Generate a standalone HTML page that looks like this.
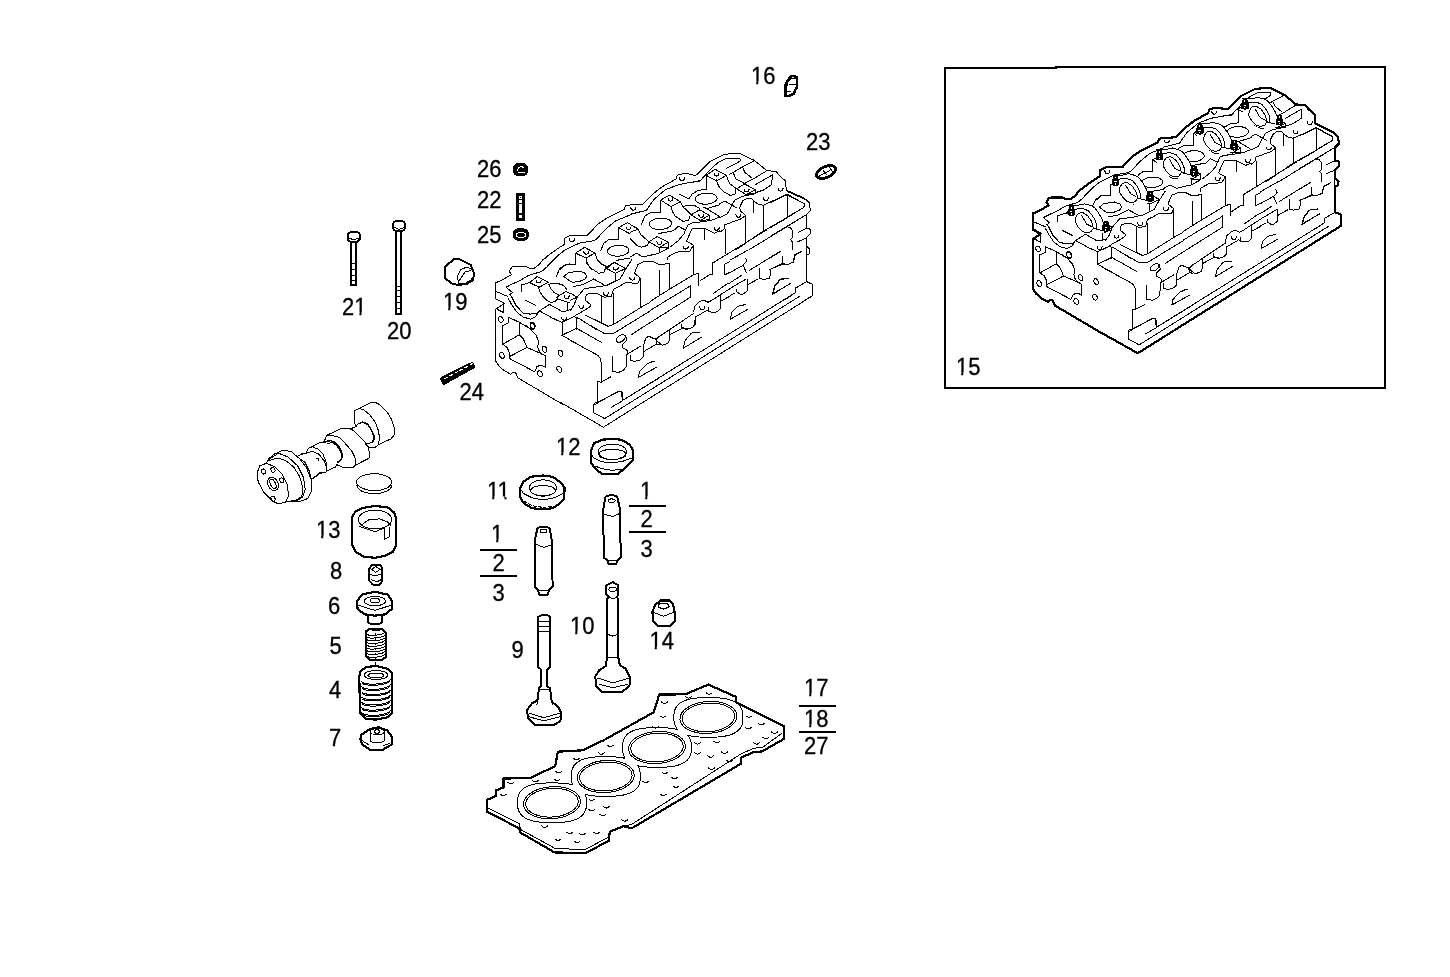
<!DOCTYPE html>
<html><head><meta charset="utf-8"><style>
html,body{margin:0;padding:0;background:#fff;width:1450px;height:977px;overflow:hidden}
svg{position:absolute;left:0;top:0;will-change:transform}
text{font-family:"Liberation Sans",sans-serif;font-size:22px;fill:#000;stroke:#000;stroke-width:0.3px}
</style></head><body>
<svg width="1450" height="977" viewBox="0 0 1450 977">
<g fill="none" stroke="#000" stroke-width="1" stroke-linejoin="round" stroke-linecap="round" shape-rendering="crispEdges">
<path d="M945,388 V68 H1056 V67 H1385 V388 Z" stroke-width="2" stroke-linejoin="miter" stroke-linecap="butt" shape-rendering="crispEdges"/>
<g stroke-width="2" shape-rendering="crispEdges" stroke-linecap="butt">
<path d="M629,506 H666 M629,532 H666"/>
<path d="M480,550 H517 M480,576 H517"/>
<path d="M799,706 H836 M799,732 H836"/>
</g>

<defs><mask id="gm0" maskUnits="userSpaceOnUse" x="0" y="0" width="1450" height="977"><rect width="1450" height="977" fill="#fff"/><path d="M640.3,776.5 L640.2,779.7 L639.9,781.9 L639.4,783.8 L638.7,785.4 L637.9,787.0 L636.8,788.3 L635.6,789.6 L634.1,790.8 L632.5,791.8 L630.7,792.8 L628.7,793.6 L626.4,794.3 L624.0,794.9 L621.4,795.4 L618.5,795.8 L615.2,796.1 L611.5,796.2 L605.8,796.3 L600.1,796.2 L596.4,796.1 L593.1,795.8 L590.2,795.4 L587.6,794.9 L585.2,794.3 L582.9,793.6 L580.9,792.8 L579.1,791.8 L577.5,790.8 L576.0,789.6 L574.8,788.3 L573.7,787.0 L572.9,785.4 L572.2,783.8 L571.7,781.9 L571.4,779.7 L571.3,776.5 L571.4,773.3 L571.7,771.1 L572.2,769.2 L572.9,767.6 L573.7,766.0 L574.8,764.7 L576.0,763.4 L577.5,762.2 L579.1,761.2 L580.9,760.2 L582.9,759.4 L585.2,758.7 L587.6,758.1 L590.2,757.6 L593.1,757.2 L596.4,756.9 L600.1,756.8 L605.8,756.7 L611.5,756.8 L615.2,756.9 L618.5,757.2 L621.4,757.6 L624.0,758.1 L626.4,758.7 L628.7,759.4 L630.7,760.2 L632.5,761.2 L634.1,762.2 L635.6,763.4 L636.8,764.7 L637.9,766.0 L638.7,767.6 L639.4,769.2 L639.9,771.1 L640.2,773.3 Z" fill="#000" stroke="none"/><path d="M691.5,747.5 L691.4,750.7 L691.1,752.9 L690.6,754.8 L689.9,756.4 L689.1,758.0 L688.0,759.3 L686.8,760.6 L685.3,761.8 L683.7,762.8 L681.9,763.8 L679.9,764.6 L677.6,765.3 L675.2,765.9 L672.6,766.4 L669.7,766.8 L666.4,767.1 L662.7,767.2 L657.0,767.3 L651.3,767.2 L647.6,767.1 L644.3,766.8 L641.4,766.4 L638.8,765.9 L636.4,765.3 L634.1,764.6 L632.1,763.8 L630.3,762.8 L628.7,761.8 L627.2,760.6 L626.0,759.3 L624.9,758.0 L624.1,756.4 L623.4,754.8 L622.9,752.9 L622.6,750.7 L622.5,747.5 L622.6,744.3 L622.9,742.1 L623.4,740.2 L624.1,738.6 L624.9,737.0 L626.0,735.7 L627.2,734.4 L628.7,733.2 L630.3,732.2 L632.1,731.2 L634.1,730.4 L636.4,729.7 L638.8,729.1 L641.4,728.6 L644.3,728.2 L647.6,727.9 L651.3,727.8 L657.0,727.7 L662.7,727.8 L666.4,727.9 L669.7,728.2 L672.6,728.6 L675.2,729.1 L677.6,729.7 L679.9,730.4 L681.9,731.2 L683.7,732.2 L685.3,733.2 L686.8,734.4 L688.0,735.7 L689.1,737.0 L689.9,738.6 L690.6,740.2 L691.1,742.1 L691.4,744.3 Z" fill="#000" stroke="none"/><path d="M742.9,717.4 L742.8,720.6 L742.5,722.8 L742.0,724.7 L741.3,726.3 L740.5,727.9 L739.4,729.2 L738.2,730.5 L736.7,731.7 L735.1,732.7 L733.3,733.7 L731.3,734.5 L729.0,735.2 L726.6,735.8 L724.0,736.3 L721.1,736.7 L717.8,737.0 L714.1,737.1 L708.4,737.2 L702.7,737.1 L699.0,737.0 L695.7,736.7 L692.8,736.3 L690.2,735.8 L687.8,735.2 L685.5,734.5 L683.5,733.7 L681.7,732.7 L680.1,731.7 L678.6,730.5 L677.4,729.2 L676.3,727.9 L675.5,726.3 L674.8,724.7 L674.3,722.8 L674.0,720.6 L673.9,717.4 L674.0,714.2 L674.3,712.0 L674.8,710.1 L675.5,708.5 L676.3,706.9 L677.4,705.6 L678.6,704.3 L680.1,703.1 L681.7,702.1 L683.5,701.1 L685.5,700.3 L687.8,699.6 L690.2,699.0 L692.8,698.5 L695.7,698.1 L699.0,697.8 L702.7,697.7 L708.4,697.6 L714.1,697.7 L717.8,697.8 L721.1,698.1 L724.0,698.5 L726.6,699.0 L729.0,699.6 L731.3,700.3 L733.3,701.1 L735.1,702.1 L736.7,703.1 L738.2,704.3 L739.4,705.6 L740.5,706.9 L741.3,708.5 L742.0,710.1 L742.5,712.0 L742.8,714.2 Z" fill="#000" stroke="none"/></mask><mask id="gm1" maskUnits="userSpaceOnUse" x="0" y="0" width="1450" height="977"><rect width="1450" height="977" fill="#fff"/><path d="M586.5,802.7 L586.4,805.9 L586.1,808.1 L585.6,810.0 L584.9,811.6 L584.1,813.2 L583.0,814.5 L581.8,815.8 L580.3,817.0 L578.7,818.0 L576.9,819.0 L574.9,819.8 L572.6,820.5 L570.2,821.1 L567.6,821.6 L564.7,822.0 L561.4,822.3 L557.7,822.4 L552.0,822.5 L546.3,822.4 L542.6,822.3 L539.3,822.0 L536.4,821.6 L533.8,821.1 L531.4,820.5 L529.1,819.8 L527.1,819.0 L525.3,818.0 L523.7,817.0 L522.2,815.8 L521.0,814.5 L519.9,813.2 L519.1,811.6 L518.4,810.0 L517.9,808.1 L517.6,805.9 L517.5,802.7 L517.6,799.5 L517.9,797.3 L518.4,795.4 L519.1,793.8 L519.9,792.2 L521.0,790.9 L522.2,789.6 L523.7,788.4 L525.3,787.4 L527.1,786.4 L529.1,785.6 L531.4,784.9 L533.8,784.3 L536.4,783.8 L539.3,783.4 L542.6,783.1 L546.3,783.0 L552.0,782.9 L557.7,783.0 L561.4,783.1 L564.7,783.4 L567.6,783.8 L570.2,784.3 L572.6,784.9 L574.9,785.6 L576.9,786.4 L578.7,787.4 L580.3,788.4 L581.8,789.6 L583.0,790.9 L584.1,792.2 L584.9,793.8 L585.6,795.4 L586.1,797.3 L586.4,799.5 Z" fill="#000" stroke="none"/><path d="M691.5,747.5 L691.4,750.7 L691.1,752.9 L690.6,754.8 L689.9,756.4 L689.1,758.0 L688.0,759.3 L686.8,760.6 L685.3,761.8 L683.7,762.8 L681.9,763.8 L679.9,764.6 L677.6,765.3 L675.2,765.9 L672.6,766.4 L669.7,766.8 L666.4,767.1 L662.7,767.2 L657.0,767.3 L651.3,767.2 L647.6,767.1 L644.3,766.8 L641.4,766.4 L638.8,765.9 L636.4,765.3 L634.1,764.6 L632.1,763.8 L630.3,762.8 L628.7,761.8 L627.2,760.6 L626.0,759.3 L624.9,758.0 L624.1,756.4 L623.4,754.8 L622.9,752.9 L622.6,750.7 L622.5,747.5 L622.6,744.3 L622.9,742.1 L623.4,740.2 L624.1,738.6 L624.9,737.0 L626.0,735.7 L627.2,734.4 L628.7,733.2 L630.3,732.2 L632.1,731.2 L634.1,730.4 L636.4,729.7 L638.8,729.1 L641.4,728.6 L644.3,728.2 L647.6,727.9 L651.3,727.8 L657.0,727.7 L662.7,727.8 L666.4,727.9 L669.7,728.2 L672.6,728.6 L675.2,729.1 L677.6,729.7 L679.9,730.4 L681.9,731.2 L683.7,732.2 L685.3,733.2 L686.8,734.4 L688.0,735.7 L689.1,737.0 L689.9,738.6 L690.6,740.2 L691.1,742.1 L691.4,744.3 Z" fill="#000" stroke="none"/><path d="M742.9,717.4 L742.8,720.6 L742.5,722.8 L742.0,724.7 L741.3,726.3 L740.5,727.9 L739.4,729.2 L738.2,730.5 L736.7,731.7 L735.1,732.7 L733.3,733.7 L731.3,734.5 L729.0,735.2 L726.6,735.8 L724.0,736.3 L721.1,736.7 L717.8,737.0 L714.1,737.1 L708.4,737.2 L702.7,737.1 L699.0,737.0 L695.7,736.7 L692.8,736.3 L690.2,735.8 L687.8,735.2 L685.5,734.5 L683.5,733.7 L681.7,732.7 L680.1,731.7 L678.6,730.5 L677.4,729.2 L676.3,727.9 L675.5,726.3 L674.8,724.7 L674.3,722.8 L674.0,720.6 L673.9,717.4 L674.0,714.2 L674.3,712.0 L674.8,710.1 L675.5,708.5 L676.3,706.9 L677.4,705.6 L678.6,704.3 L680.1,703.1 L681.7,702.1 L683.5,701.1 L685.5,700.3 L687.8,699.6 L690.2,699.0 L692.8,698.5 L695.7,698.1 L699.0,697.8 L702.7,697.7 L708.4,697.6 L714.1,697.7 L717.8,697.8 L721.1,698.1 L724.0,698.5 L726.6,699.0 L729.0,699.6 L731.3,700.3 L733.3,701.1 L735.1,702.1 L736.7,703.1 L738.2,704.3 L739.4,705.6 L740.5,706.9 L741.3,708.5 L742.0,710.1 L742.5,712.0 L742.8,714.2 Z" fill="#000" stroke="none"/></mask><mask id="gm2" maskUnits="userSpaceOnUse" x="0" y="0" width="1450" height="977"><rect width="1450" height="977" fill="#fff"/><path d="M586.5,802.7 L586.4,805.9 L586.1,808.1 L585.6,810.0 L584.9,811.6 L584.1,813.2 L583.0,814.5 L581.8,815.8 L580.3,817.0 L578.7,818.0 L576.9,819.0 L574.9,819.8 L572.6,820.5 L570.2,821.1 L567.6,821.6 L564.7,822.0 L561.4,822.3 L557.7,822.4 L552.0,822.5 L546.3,822.4 L542.6,822.3 L539.3,822.0 L536.4,821.6 L533.8,821.1 L531.4,820.5 L529.1,819.8 L527.1,819.0 L525.3,818.0 L523.7,817.0 L522.2,815.8 L521.0,814.5 L519.9,813.2 L519.1,811.6 L518.4,810.0 L517.9,808.1 L517.6,805.9 L517.5,802.7 L517.6,799.5 L517.9,797.3 L518.4,795.4 L519.1,793.8 L519.9,792.2 L521.0,790.9 L522.2,789.6 L523.7,788.4 L525.3,787.4 L527.1,786.4 L529.1,785.6 L531.4,784.9 L533.8,784.3 L536.4,783.8 L539.3,783.4 L542.6,783.1 L546.3,783.0 L552.0,782.9 L557.7,783.0 L561.4,783.1 L564.7,783.4 L567.6,783.8 L570.2,784.3 L572.6,784.9 L574.9,785.6 L576.9,786.4 L578.7,787.4 L580.3,788.4 L581.8,789.6 L583.0,790.9 L584.1,792.2 L584.9,793.8 L585.6,795.4 L586.1,797.3 L586.4,799.5 Z" fill="#000" stroke="none"/><path d="M640.3,776.5 L640.2,779.7 L639.9,781.9 L639.4,783.8 L638.7,785.4 L637.9,787.0 L636.8,788.3 L635.6,789.6 L634.1,790.8 L632.5,791.8 L630.7,792.8 L628.7,793.6 L626.4,794.3 L624.0,794.9 L621.4,795.4 L618.5,795.8 L615.2,796.1 L611.5,796.2 L605.8,796.3 L600.1,796.2 L596.4,796.1 L593.1,795.8 L590.2,795.4 L587.6,794.9 L585.2,794.3 L582.9,793.6 L580.9,792.8 L579.1,791.8 L577.5,790.8 L576.0,789.6 L574.8,788.3 L573.7,787.0 L572.9,785.4 L572.2,783.8 L571.7,781.9 L571.4,779.7 L571.3,776.5 L571.4,773.3 L571.7,771.1 L572.2,769.2 L572.9,767.6 L573.7,766.0 L574.8,764.7 L576.0,763.4 L577.5,762.2 L579.1,761.2 L580.9,760.2 L582.9,759.4 L585.2,758.7 L587.6,758.1 L590.2,757.6 L593.1,757.2 L596.4,756.9 L600.1,756.8 L605.8,756.7 L611.5,756.8 L615.2,756.9 L618.5,757.2 L621.4,757.6 L624.0,758.1 L626.4,758.7 L628.7,759.4 L630.7,760.2 L632.5,761.2 L634.1,762.2 L635.6,763.4 L636.8,764.7 L637.9,766.0 L638.7,767.6 L639.4,769.2 L639.9,771.1 L640.2,773.3 Z" fill="#000" stroke="none"/><path d="M742.9,717.4 L742.8,720.6 L742.5,722.8 L742.0,724.7 L741.3,726.3 L740.5,727.9 L739.4,729.2 L738.2,730.5 L736.7,731.7 L735.1,732.7 L733.3,733.7 L731.3,734.5 L729.0,735.2 L726.6,735.8 L724.0,736.3 L721.1,736.7 L717.8,737.0 L714.1,737.1 L708.4,737.2 L702.7,737.1 L699.0,737.0 L695.7,736.7 L692.8,736.3 L690.2,735.8 L687.8,735.2 L685.5,734.5 L683.5,733.7 L681.7,732.7 L680.1,731.7 L678.6,730.5 L677.4,729.2 L676.3,727.9 L675.5,726.3 L674.8,724.7 L674.3,722.8 L674.0,720.6 L673.9,717.4 L674.0,714.2 L674.3,712.0 L674.8,710.1 L675.5,708.5 L676.3,706.9 L677.4,705.6 L678.6,704.3 L680.1,703.1 L681.7,702.1 L683.5,701.1 L685.5,700.3 L687.8,699.6 L690.2,699.0 L692.8,698.5 L695.7,698.1 L699.0,697.8 L702.7,697.7 L708.4,697.6 L714.1,697.7 L717.8,697.8 L721.1,698.1 L724.0,698.5 L726.6,699.0 L729.0,699.6 L731.3,700.3 L733.3,701.1 L735.1,702.1 L736.7,703.1 L738.2,704.3 L739.4,705.6 L740.5,706.9 L741.3,708.5 L742.0,710.1 L742.5,712.0 L742.8,714.2 Z" fill="#000" stroke="none"/></mask><mask id="gm3" maskUnits="userSpaceOnUse" x="0" y="0" width="1450" height="977"><rect width="1450" height="977" fill="#fff"/><path d="M586.5,802.7 L586.4,805.9 L586.1,808.1 L585.6,810.0 L584.9,811.6 L584.1,813.2 L583.0,814.5 L581.8,815.8 L580.3,817.0 L578.7,818.0 L576.9,819.0 L574.9,819.8 L572.6,820.5 L570.2,821.1 L567.6,821.6 L564.7,822.0 L561.4,822.3 L557.7,822.4 L552.0,822.5 L546.3,822.4 L542.6,822.3 L539.3,822.0 L536.4,821.6 L533.8,821.1 L531.4,820.5 L529.1,819.8 L527.1,819.0 L525.3,818.0 L523.7,817.0 L522.2,815.8 L521.0,814.5 L519.9,813.2 L519.1,811.6 L518.4,810.0 L517.9,808.1 L517.6,805.9 L517.5,802.7 L517.6,799.5 L517.9,797.3 L518.4,795.4 L519.1,793.8 L519.9,792.2 L521.0,790.9 L522.2,789.6 L523.7,788.4 L525.3,787.4 L527.1,786.4 L529.1,785.6 L531.4,784.9 L533.8,784.3 L536.4,783.8 L539.3,783.4 L542.6,783.1 L546.3,783.0 L552.0,782.9 L557.7,783.0 L561.4,783.1 L564.7,783.4 L567.6,783.8 L570.2,784.3 L572.6,784.9 L574.9,785.6 L576.9,786.4 L578.7,787.4 L580.3,788.4 L581.8,789.6 L583.0,790.9 L584.1,792.2 L584.9,793.8 L585.6,795.4 L586.1,797.3 L586.4,799.5 Z" fill="#000" stroke="none"/><path d="M640.3,776.5 L640.2,779.7 L639.9,781.9 L639.4,783.8 L638.7,785.4 L637.9,787.0 L636.8,788.3 L635.6,789.6 L634.1,790.8 L632.5,791.8 L630.7,792.8 L628.7,793.6 L626.4,794.3 L624.0,794.9 L621.4,795.4 L618.5,795.8 L615.2,796.1 L611.5,796.2 L605.8,796.3 L600.1,796.2 L596.4,796.1 L593.1,795.8 L590.2,795.4 L587.6,794.9 L585.2,794.3 L582.9,793.6 L580.9,792.8 L579.1,791.8 L577.5,790.8 L576.0,789.6 L574.8,788.3 L573.7,787.0 L572.9,785.4 L572.2,783.8 L571.7,781.9 L571.4,779.7 L571.3,776.5 L571.4,773.3 L571.7,771.1 L572.2,769.2 L572.9,767.6 L573.7,766.0 L574.8,764.7 L576.0,763.4 L577.5,762.2 L579.1,761.2 L580.9,760.2 L582.9,759.4 L585.2,758.7 L587.6,758.1 L590.2,757.6 L593.1,757.2 L596.4,756.9 L600.1,756.8 L605.8,756.7 L611.5,756.8 L615.2,756.9 L618.5,757.2 L621.4,757.6 L624.0,758.1 L626.4,758.7 L628.7,759.4 L630.7,760.2 L632.5,761.2 L634.1,762.2 L635.6,763.4 L636.8,764.7 L637.9,766.0 L638.7,767.6 L639.4,769.2 L639.9,771.1 L640.2,773.3 Z" fill="#000" stroke="none"/><path d="M691.5,747.5 L691.4,750.7 L691.1,752.9 L690.6,754.8 L689.9,756.4 L689.1,758.0 L688.0,759.3 L686.8,760.6 L685.3,761.8 L683.7,762.8 L681.9,763.8 L679.9,764.6 L677.6,765.3 L675.2,765.9 L672.6,766.4 L669.7,766.8 L666.4,767.1 L662.7,767.2 L657.0,767.3 L651.3,767.2 L647.6,767.1 L644.3,766.8 L641.4,766.4 L638.8,765.9 L636.4,765.3 L634.1,764.6 L632.1,763.8 L630.3,762.8 L628.7,761.8 L627.2,760.6 L626.0,759.3 L624.9,758.0 L624.1,756.4 L623.4,754.8 L622.9,752.9 L622.6,750.7 L622.5,747.5 L622.6,744.3 L622.9,742.1 L623.4,740.2 L624.1,738.6 L624.9,737.0 L626.0,735.7 L627.2,734.4 L628.7,733.2 L630.3,732.2 L632.1,731.2 L634.1,730.4 L636.4,729.7 L638.8,729.1 L641.4,728.6 L644.3,728.2 L647.6,727.9 L651.3,727.8 L657.0,727.7 L662.7,727.8 L666.4,727.9 L669.7,728.2 L672.6,728.6 L675.2,729.1 L677.6,729.7 L679.9,730.4 L681.9,731.2 L683.7,732.2 L685.3,733.2 L686.8,734.4 L688.0,735.7 L689.1,737.0 L689.9,738.6 L690.6,740.2 L691.1,742.1 L691.4,744.3 Z" fill="#000" stroke="none"/></mask></defs>
<path d="M486.9,811.7 L486.9,800.0 L495.9,795.9 L495.9,790.3 L503.4,787.6 L503.4,778.6 L530.3,777.9 L555.2,766.2 L557.9,751.7 L582.8,750.3 L604.1,740.0 L653.8,712.2 L659.2,694.6 L685.3,694.3 L708.3,684.6 L736.0,696.9 L736.4,702.6 L783.6,726.0 L783.6,739.1 L762.1,751.4 L753.6,752.1 L741.3,757.5 L741.0,763.7 L631.7,828.3 L623.4,826.2 L609.7,831.7 L609.0,840.7 L585.5,853.1 L554.5,852.4 L520.0,832.4 L519.3,828.3 Z" stroke-width="2.2"/>
<path d="M487.6,807.9 L519.6,823.7 L520.4,829.4 L555.6,848.7 L585.5,849.4 L609.1,836.8 L609.9,831.3 L623.4,825.8 L631.0,824.8 L741.3,753.7 L753.6,748.3 L762.8,747.2 L781.3,733.7" stroke-width="1"/>
<ellipse cx="552" cy="802.7" rx="28.5" ry="16" transform="rotate(-4 552 802.7)"/>
<ellipse cx="552" cy="802.7" rx="26.3" ry="14.3" transform="rotate(-4 552 802.7)"/>
<ellipse cx="605.8" cy="776.5" rx="28.5" ry="16" transform="rotate(-4 605.8 776.5)"/>
<ellipse cx="605.8" cy="776.5" rx="26.3" ry="14.3" transform="rotate(-4 605.8 776.5)"/>
<ellipse cx="657" cy="747.5" rx="28.5" ry="16" transform="rotate(-4 657 747.5)"/>
<ellipse cx="657" cy="747.5" rx="26.3" ry="14.3" transform="rotate(-4 657 747.5)"/>
<ellipse cx="708.4" cy="717.4" rx="28.5" ry="16" transform="rotate(-4 708.4 717.4)"/>
<ellipse cx="708.4" cy="717.4" rx="26.3" ry="14.3" transform="rotate(-4 708.4 717.4)"/>
<path d="M586.5,802.7 L586.4,805.9 L586.1,808.1 L585.6,810.0 L584.9,811.6 L584.1,813.2 L583.0,814.5 L581.8,815.8 L580.3,817.0 L578.7,818.0 L576.9,819.0 L574.9,819.8 L572.6,820.5 L570.2,821.1 L567.6,821.6 L564.7,822.0 L561.4,822.3 L557.7,822.4 L552.0,822.5 L546.3,822.4 L542.6,822.3 L539.3,822.0 L536.4,821.6 L533.8,821.1 L531.4,820.5 L529.1,819.8 L527.1,819.0 L525.3,818.0 L523.7,817.0 L522.2,815.8 L521.0,814.5 L519.9,813.2 L519.1,811.6 L518.4,810.0 L517.9,808.1 L517.6,805.9 L517.5,802.7 L517.6,799.5 L517.9,797.3 L518.4,795.4 L519.1,793.8 L519.9,792.2 L521.0,790.9 L522.2,789.6 L523.7,788.4 L525.3,787.4 L527.1,786.4 L529.1,785.6 L531.4,784.9 L533.8,784.3 L536.4,783.8 L539.3,783.4 L542.6,783.1 L546.3,783.0 L552.0,782.9 L557.7,783.0 L561.4,783.1 L564.7,783.4 L567.6,783.8 L570.2,784.3 L572.6,784.9 L574.9,785.6 L576.9,786.4 L578.7,787.4 L580.3,788.4 L581.8,789.6 L583.0,790.9 L584.1,792.2 L584.9,793.8 L585.6,795.4 L586.1,797.3 L586.4,799.5 Z" mask="url(#gm0)"/>
<path d="M640.3,776.5 L640.2,779.7 L639.9,781.9 L639.4,783.8 L638.7,785.4 L637.9,787.0 L636.8,788.3 L635.6,789.6 L634.1,790.8 L632.5,791.8 L630.7,792.8 L628.7,793.6 L626.4,794.3 L624.0,794.9 L621.4,795.4 L618.5,795.8 L615.2,796.1 L611.5,796.2 L605.8,796.3 L600.1,796.2 L596.4,796.1 L593.1,795.8 L590.2,795.4 L587.6,794.9 L585.2,794.3 L582.9,793.6 L580.9,792.8 L579.1,791.8 L577.5,790.8 L576.0,789.6 L574.8,788.3 L573.7,787.0 L572.9,785.4 L572.2,783.8 L571.7,781.9 L571.4,779.7 L571.3,776.5 L571.4,773.3 L571.7,771.1 L572.2,769.2 L572.9,767.6 L573.7,766.0 L574.8,764.7 L576.0,763.4 L577.5,762.2 L579.1,761.2 L580.9,760.2 L582.9,759.4 L585.2,758.7 L587.6,758.1 L590.2,757.6 L593.1,757.2 L596.4,756.9 L600.1,756.8 L605.8,756.7 L611.5,756.8 L615.2,756.9 L618.5,757.2 L621.4,757.6 L624.0,758.1 L626.4,758.7 L628.7,759.4 L630.7,760.2 L632.5,761.2 L634.1,762.2 L635.6,763.4 L636.8,764.7 L637.9,766.0 L638.7,767.6 L639.4,769.2 L639.9,771.1 L640.2,773.3 Z" mask="url(#gm1)"/>
<path d="M691.5,747.5 L691.4,750.7 L691.1,752.9 L690.6,754.8 L689.9,756.4 L689.1,758.0 L688.0,759.3 L686.8,760.6 L685.3,761.8 L683.7,762.8 L681.9,763.8 L679.9,764.6 L677.6,765.3 L675.2,765.9 L672.6,766.4 L669.7,766.8 L666.4,767.1 L662.7,767.2 L657.0,767.3 L651.3,767.2 L647.6,767.1 L644.3,766.8 L641.4,766.4 L638.8,765.9 L636.4,765.3 L634.1,764.6 L632.1,763.8 L630.3,762.8 L628.7,761.8 L627.2,760.6 L626.0,759.3 L624.9,758.0 L624.1,756.4 L623.4,754.8 L622.9,752.9 L622.6,750.7 L622.5,747.5 L622.6,744.3 L622.9,742.1 L623.4,740.2 L624.1,738.6 L624.9,737.0 L626.0,735.7 L627.2,734.4 L628.7,733.2 L630.3,732.2 L632.1,731.2 L634.1,730.4 L636.4,729.7 L638.8,729.1 L641.4,728.6 L644.3,728.2 L647.6,727.9 L651.3,727.8 L657.0,727.7 L662.7,727.8 L666.4,727.9 L669.7,728.2 L672.6,728.6 L675.2,729.1 L677.6,729.7 L679.9,730.4 L681.9,731.2 L683.7,732.2 L685.3,733.2 L686.8,734.4 L688.0,735.7 L689.1,737.0 L689.9,738.6 L690.6,740.2 L691.1,742.1 L691.4,744.3 Z" mask="url(#gm2)"/>
<path d="M742.9,717.4 L742.8,720.6 L742.5,722.8 L742.0,724.7 L741.3,726.3 L740.5,727.9 L739.4,729.2 L738.2,730.5 L736.7,731.7 L735.1,732.7 L733.3,733.7 L731.3,734.5 L729.0,735.2 L726.6,735.8 L724.0,736.3 L721.1,736.7 L717.8,737.0 L714.1,737.1 L708.4,737.2 L702.7,737.1 L699.0,737.0 L695.7,736.7 L692.8,736.3 L690.2,735.8 L687.8,735.2 L685.5,734.5 L683.5,733.7 L681.7,732.7 L680.1,731.7 L678.6,730.5 L677.4,729.2 L676.3,727.9 L675.5,726.3 L674.8,724.7 L674.3,722.8 L674.0,720.6 L673.9,717.4 L674.0,714.2 L674.3,712.0 L674.8,710.1 L675.5,708.5 L676.3,706.9 L677.4,705.6 L678.6,704.3 L680.1,703.1 L681.7,702.1 L683.5,701.1 L685.5,700.3 L687.8,699.6 L690.2,699.0 L692.8,698.5 L695.7,698.1 L699.0,697.8 L702.7,697.7 L708.4,697.6 L714.1,697.7 L717.8,697.8 L721.1,698.1 L724.0,698.5 L726.6,699.0 L729.0,699.6 L731.3,700.3 L733.3,701.1 L735.1,702.1 L736.7,703.1 L738.2,704.3 L739.4,705.6 L740.5,706.9 L741.3,708.5 L742.0,710.1 L742.5,712.0 L742.8,714.2 Z" mask="url(#gm3)"/>
<path d="M508.0,782.4 q3,3 6,0 M500.4,794.2 q3,3 6,0 M532.2,780.4 q3,3 6,0 M555.6,771.4 q3,3 6,0 M554.2,779.0 q3,3 6,0 M573.6,758.3 q3,3 6,0 M598.4,752.8 q3,3 6,0 M607.3,745.2 q3,3 6,0 M588.7,799.0 q3,3 6,0 M588.7,809.3 q3,3 6,0 M603.2,806.6 q3,3 6,0 M599.8,814.2 q3,3 6,0 M541.8,825.9 q3,3 6,0 M566.7,832.1 q3,3 6,0 M579.1,833.5 q3,3 6,0 M593.6,832.1 q3,3 6,0 M555.0,839.0 q3,3 6,0 M574.2,841.1 q3,3 6,0 M621.8,819.7 q3,3 6,0 M642.5,781.1 q3,3 6,0 M661.8,772.1 q3,3 6,0 M671.5,777.3 q3,3 6,0 M672.9,785.9 q3,3 6,0 M660.4,794.2 q3,3 6,0 M661.6,702.0 q3,3 6,0 M685.4,696.6 q3,3 6,0 M706.1,692.8 q3,3 6,0 M660.0,715.8 q3,3 6,0 M652.4,726.6 q3,3 6,0 M746.0,715.8 q3,3 6,0 M758.3,723.5 q3,3 6,0 M745.3,727.3 q3,3 6,0 M771.4,732.0 q3,3 6,0 M762.9,737.3 q3,3 6,0 M753.7,742.7 q3,3 6,0 M694.6,742.7 q3,3 6,0 M713.8,741.2 q3,3 6,0 M694.6,752.7 q3,3 6,0 M707.6,755.8 q3,3 6,0 M721.5,751.9 q3,3 6,0 M726.8,760.4 q3,3 6,0 M708.4,768.0 q3,3 6,0 M643.1,781.1 q3,3 6,0" />
<path d="M495.4,282.9 L501.8,280.1 L511.5,274.7 L509.3,271.5 L511.8,267.2 L514.4,266.3 L525.8,266.3 L529.4,268.2 L534.4,268.2 L539.4,264.3 L542.6,260.0" />
<path d="M495.4,282.9 L495.4,298.7" />
<path d="M495.4,291.2 L507.9,296.5" />
<path d="M495.4,298.7 L504.3,303.3" />
<path d="M506.1,287.2 L511.5,284.4 L520.1,280.4 L528.7,275.4 L535.8,273.2 L541.6,271.5 L548.7,265.4 L553.0,260.0" />
<path d="M506.1,287.2 L512.6,292.6 L509.7,294.7 L511.8,297.2 L515.8,305.1 L522.9,313.0 L530.1,314.1 L537.3,313.4 L539.4,310.9" />
<path d="M508.3,298.3 L511.5,304.4 L517.2,312.6 L523.7,317.3 L530.8,319.1 L535.8,316.6 L537.6,313.4" />
<path d="M495.4,330.0 L495.4,309.4 L503.6,304.0 L503.6,312.6 L497.2,309.4" />
<path d="M502.9,318.7 L503.1,319.3 L503.1,320.0 L503.1,320.6 L502.9,321.2 L502.6,321.6 L502.2,322.0 L501.8,322.3 L501.3,322.4 L500.7,322.3 L500.2,322.1 L499.7,321.8 L499.2,321.4 L498.9,320.8 L498.6,320.2 L498.4,319.6 L498.4,318.9 L498.4,318.3 L498.6,317.7 L498.9,317.2 L499.3,316.9 L499.7,316.6 L500.2,316.5 L500.8,316.6 L501.3,316.8 L501.8,317.1 L502.2,317.5 L502.6,318.1 Z" />
<path d="M502.2,330.0 L502.5,325.9 L508.3,323.0 L508.6,317.3 L519.4,322.3 L530.1,328.8" />
<path d="M519.4,322.3 L519.4,330.0" />
<path d="M534.9,324.7 L535.1,325.4 L535.2,326.2 L535.1,326.9 L534.9,327.5 L534.6,328.1 L534.2,328.5 L533.8,328.7 L533.2,328.8 L532.7,328.8 L532.1,328.5 L531.6,328.2 L531.1,327.7 L530.7,327.0 L530.4,326.4 L530.2,325.6 L530.1,324.9 L530.1,324.2 L530.3,323.5 L530.6,323.0 L531.0,322.6 L531.5,322.3 L532.0,322.2 L532.5,322.3 L533.1,322.5 L533.7,322.9 L534.1,323.4 L534.6,324.0 Z" />
<path d="M529.7,282.6 L537.3,276.5 L548.7,282.2 L539.1,287.2 Z" />
<path d="M536.20,279.99 q0,3.00 2.50,3.00 q2.50,0 2.50,-3.00" />
<path d="M521.2,291.5 L521.2,285.1 L529.7,282.6" />
<path d="M538.7,287.6 L540.1,292.2 L543.0,296.5 L547.3,300.8 L551.2,302.6 L554.8,301.5 L557.7,299.0 L558.0,296.5" />
<path d="M548.7,284.4 L550.9,288.6 L554.5,292.9 L558.8,295.1" />
<path d="M548.7,284.4 L552.3,283.3 L557.3,283.3 L563.8,285.4 L566.6,289.4" />
<path d="M556.6,297.2 L565.9,291.5 L570.0,293.7" />
<path d="M564.13,295.74 q0,3.00 2.50,3.00 q2.50,0 2.50,-3.00" />
<path d="M557.3,298.7 L570.0,303.0" />
<path d="M567.4,302.3 L567.4,310.1" />
<path d="M539.4,310.9 L549.4,304.4 L561.6,311.2 L565.9,311.2 L570.0,309.4" />
<path d="M539.4,310.9 L552.3,318.0 L561.6,322.3 L570.0,318.7" />
<path d="M562.3,322.3 L562.3,330.0" />
<path d="M561.63,317.23 q0,3.00 2.50,3.00 q2.50,0 2.50,-3.00" />
<path d="M525.1,300.1 L535.8,305.5" />
<path d="M556.2,276.5 L559.8,268.6 L565.9,264.3 L570.0,263.9" />
<path d="M570.0,272.2 L568.1,272.9 L563.8,276.5 L570.0,281.1" />
<path d="M570.0,264.7 L575.4,264.7 L575.4,260.0" />
<path d="M586.1,260.0 L587.2,264.3 L591.5,268.6 L598.6,273.2 L603.7,272.5 L605.1,268.6 L607.2,267.2" />
<path d="M597.2,260.0 L601.5,263.6 L607.2,266.8" />
<path d="M605.5,267.9 L614.4,262.1 L625.5,268.6 L615.5,273.2 Z" />
<path d="M613.34,267.09 q0,3.00 2.50,3.00 q2.50,0 2.50,-3.00" />
<path d="M615.5,273.2 L615.5,281.1" />
<path d="M631.6,260.0 L625.5,269.3 L620.1,278.8 L615.5,281.1 L607.2,285.1 L603.7,285.1" />
<path d="M570.0,272.5 L579.3,271.1 L585.0,273.2 L586.8,276.5 L584.7,279.3 L579.3,281.5 L572.9,282.2 L570.0,281.1" />
<path d="M573.2,286.5 L583.6,284.4 L593.6,279.0 L603.7,284.7" />
<path d="M570.0,292.9 L577.2,297.2 L570.0,300.5" />
<path d="M577.2,297.2 L584.3,288.6 L602.9,286.1" />
<path d="M577.2,297.2 L573.6,305.8 L570.0,310.9" />
<path d="M586.5,294.4 L591.5,293.3 L596.5,293.3 L601.5,295.8 L604.4,297.2 L611.5,296.5 L612.3,292.6 L613.7,289.0 L620.1,285.8 L625.5,282.6 L631.6,282.6 L632.3,283.3 L638.0,283.3 L639.8,278.6" />
<path d="M586.5,294.4 L585.0,300.1 L588.6,303.0 L590.8,304.8 L590.1,306.6 L586.1,309.4 L577.2,314.4 L572.9,317.3 L570.0,318.4" />
<path d="M601.5,296.5 L601.5,323.0" />
<path d="M613.3,293.3 L613.3,323.7" />
<path d="M640.5,278.6 L640.5,307.3" />
<path d="M585.4,315.1 L601.5,323.0 L608.0,326.2 L613.0,324.8 L640.5,307.6 L650.0,302.3" />
<path d="M573.6,316.6 L579.3,318.7 L597.2,330.0" />
<path d="M576.4,318.7 L576.4,330.0" />
<path d="M650.0,261.1 L644.5,261.4 L638.0,264.3 L636.6,267.9 L634.5,272.9 L636.6,275.0 L640.5,278.3" />
<path d="M578.96,305.41 q0,3.00 2.50,3.00 q2.50,0 2.50,-3.00" />
<path d="M603.31,292.52 q0,3.00 2.50,3.00 q2.50,0 2.50,-3.00" />
<path d="M629.81,277.12 q0,3.00 2.50,3.00 q2.50,0 2.50,-3.00" />
<path d="M650.0,261.1 L652.9,261.4 L659.3,264.7 L663.6,264.3 L669.3,263.2 L669.3,289.4" />
<path d="M659.7,270.0 L659.7,294.7" />
<path d="M650.0,301.5 L669.3,289.4 L693.3,275.0 L698.3,273.2 L698.3,285.4" />
<path d="M693.3,260.0 L693.3,275.0" />
<path d="M700.1,280.8 L710.2,274.3 L712.3,275.0 L712.3,263.2 L718.0,260.0" />
<path d="M730.0,261.4 L724.5,264.3 L724.5,275.0 L730.0,272.2" />
<path d="M650.0,310.5 L690.1,286.1" />
<path d="M690.5,285.4 L690.5,297.2 L650.0,322.7" />
<path d="M713.0,293.7 L727.4,283.6 L730.0,282.9" />
<path d="M693.7,311.6 L695.1,305.8 L700.1,301.2 L704.4,300.5 L708.0,302.3 L711.6,300.5 L730.0,288.6" />
<path d="M669.0,330.0 L693.7,313.4" />
<path d="M695.1,317.3 L707.3,310.1 L708.7,311.2 L711.6,312.3 L717.3,311.9 L720.5,308.7 L720.5,295.8" />
<path d="M708.7,307.3 L708.7,311.2" />
<path d="M720.5,301.2 L730.0,296.2" />
<path d="M695.1,316.6 L695.1,324.5 L693.0,327.3 L687.2,329.1 L681.5,327.3 L681.5,324.5" />
<path d="M699.78,306.84 q0,3.00 2.50,3.00 q2.50,0 2.50,-3.00" />
<path d="M730.0,260.2 L748.0,250.0" />
<path d="M730.0,272.5 L743.1,265.2 L746.8,261.5 L745.6,258.2" />
<path d="M743.1,265.2 L746.4,272.5" />
<path d="M749.2,270.5 L780.4,251.2" />
<path d="M730.0,282.8 L741.5,275.4" />
<path d="M730.0,288.5 L746.0,279.1" />
<path d="M730.0,295.5 L734.9,293.0" />
<path d="M736.6,289.3 L736.6,291.8 L740.6,294.2 L743.1,294.2 L747.2,290.9 L747.6,279.1" />
<path d="M747.6,284.8 L757.8,279.1" />
<path d="M759.5,268.4 L759.5,278.3 L763.6,279.5 L769.3,278.3 L770.5,274.6 L770.5,269.2 L782.4,264.3 L782.4,256.1" />
<path d="M782.4,263.9 L787.3,264.7 L793.9,261.5 L794.3,255.7 L801.7,251.2" />
<path d="M772.2,294.6 L774.6,286.0 L780.0,279.5 L788.6,278.3" />
<path d="M772.2,294.6 L790.6,283.2" />
<path d="M730.4,319.2 L731.6,312.2 L737.4,306.5 L745.6,304.5" />
<path d="M730.4,319.2 L747.6,309.4" />
<path d="M603.4,427.2 L812.3,295.9 L812.3,284.0 L806.6,281.5 L806.6,259.0" />
<path d="M604.7,418.6 L799.6,296.3" />
<path d="M622.4,400.6 L795.5,292.6 L795.5,288.1 L806.6,281.5" />
<path d="M495.7,325.0 L495.3,360.6 L499.0,365.9 L503.9,370.5 L510.5,374.1 L513.7,372.1 L516.2,373.3 L517.8,377.8 L563.7,405.0" />
<path d="M502.3,325.0 L502.7,344.2 L519.5,334.8 L519.5,325.0" />
<path d="M502.7,344.2 L506.8,347.1 L509.2,352.0 L509.7,358.6 L534.6,371.7 L537.1,366.4 L541.6,365.1 L545.7,367.2 L545.7,356.1 L542.4,354.1 L526.9,347.5 L509.7,356.5" />
<path d="M519.5,334.8 L522.8,338.1 L525.2,343.0 L526.9,347.5" />
<path d="M525.2,325.0 L530.1,328.7 L535.9,334.8 L538.7,341.4 L538.3,344.7 L537.5,345.9 L538.7,350.0 L541.6,354.1" />
<path d="M503.9,354.4 L504.1,355.0 L504.3,355.7 L504.3,356.4 L504.2,357.0 L504.0,357.5 L503.6,357.9 L503.2,358.2 L502.7,358.3 L502.2,358.3 L501.7,358.1 L501.2,357.8 L500.7,357.4 L500.2,356.9 L499.9,356.2 L499.6,355.6 L499.5,354.9 L499.5,354.2 L499.6,353.6 L499.8,353.1 L500.1,352.7 L500.5,352.4 L501.0,352.3 L501.5,352.3 L502.1,352.5 L502.6,352.8 L503.1,353.2 L503.5,353.7 Z" />
<path d="M546.5,348.2 L546.7,348.9 L546.8,349.6 L546.9,350.2 L546.8,350.8 L546.5,351.4 L546.2,351.8 L545.8,352.1 L545.3,352.2 L544.8,352.2 L544.3,352.0 L543.7,351.7 L543.2,351.3 L542.8,350.7 L542.5,350.1 L542.2,349.4 L542.1,348.7 L542.1,348.1 L542.2,347.5 L542.4,346.9 L542.7,346.5 L543.1,346.3 L543.6,346.1 L544.1,346.1 L544.6,346.3 L545.2,346.6 L545.7,347.1 L546.1,347.6 Z" />
<path d="M541.9,372.8 L542.2,373.5 L542.3,374.1 L542.4,374.8 L542.3,375.4 L542.0,375.9 L541.7,376.3 L541.3,376.6 L540.8,376.8 L540.3,376.7 L539.8,376.6 L539.2,376.3 L538.7,375.8 L538.3,375.3 L538.0,374.7 L537.7,374.0 L537.6,373.3 L537.6,372.6 L537.7,372.0 L537.9,371.5 L538.2,371.1 L538.6,370.8 L539.1,370.7 L539.6,370.7 L540.1,370.9 L540.7,371.2 L541.2,371.6 L541.6,372.2 Z" />
<path d="M562.4,352.3 L562.7,353.0 L562.8,353.7 L562.8,354.3 L562.7,354.9 L562.5,355.5 L562.2,355.9 L561.8,356.2 L561.3,356.3 L560.8,356.3 L560.2,356.1 L559.7,355.8 L559.2,355.3 L558.8,354.8 L558.4,354.2 L558.2,353.5 L558.0,352.8 L558.0,352.2 L558.1,351.6 L558.3,351.0 L558.7,350.6 L559.1,350.4 L559.6,350.2 L560.1,350.2 L560.6,350.4 L561.1,350.7 L561.6,351.2 L562.1,351.7 Z" />
<path d="M561.2,368.3 L561.4,369.0 L561.6,369.6 L561.6,370.3 L561.5,370.9 L561.3,371.4 L561.0,371.8 L560.6,372.1 L560.1,372.3 L559.6,372.2 L559.0,372.1 L558.5,371.8 L558.0,371.3 L557.6,370.8 L557.2,370.2 L557.0,369.5 L556.8,368.8 L556.8,368.1 L556.9,367.5 L557.1,367.0 L557.4,366.6 L557.8,366.3 L558.3,366.2 L558.8,366.2 L559.4,366.4 L559.9,366.7 L560.4,367.1 L560.8,367.7 Z" />
<path d="M534.6,325.3 L534.8,326.0 L535.0,326.6 L535.0,327.3 L534.9,327.9 L534.7,328.4 L534.3,328.8 L533.9,329.1 L533.5,329.3 L532.9,329.2 L532.4,329.1 L531.9,328.8 L531.4,328.3 L530.9,327.8 L530.6,327.2 L530.3,326.5 L530.2,325.8 L530.2,325.1 L530.3,324.5 L530.5,324.0 L530.8,323.6 L531.2,323.3 L531.7,323.2 L532.2,323.2 L532.8,323.4 L533.3,323.7 L533.8,324.1 L534.2,324.7 Z" />
<path d="M562.1,325.0 L562.1,335.2 L576.4,328.3 L576.4,325.0" />
<path d="M561.7,335.2 L580.0,345.5" />
<path d="M576.4,328.3 L580.0,330.3" />
<path d="M570.0,331.6 L576.6,328.3 L576.6,325.0" />
<path d="M576.6,328.3 L601.9,342.6" />
<path d="M589.7,325.0 L604.4,333.6 L612.6,334.0 L627.3,325.0" />
<path d="M631.4,334.8 L646.2,325.0" />
<path d="M570.0,340.2 L597.8,355.3 L600.3,358.6 L601.1,362.7 L601.1,382.3" />
<path d="M601.1,381.9 L610.5,377.0" />
<path d="M601.1,382.3 L597.4,381.5 L597.4,403.6 L593.3,405.0" />
<path d="M624.9,335.6 L625.1,336.3 L625.2,337.0 L625.0,337.8 L624.7,338.6 L624.1,339.5 L623.4,340.3 L622.5,341.0 L621.5,341.5 L620.5,342.0 L619.6,342.2 L618.6,342.3 L617.8,342.2 L617.2,341.9 L616.7,341.4 L616.4,340.8 L616.3,340.0 L616.5,339.2 L616.9,338.4 L617.4,337.5 L618.2,336.8 L619.1,336.1 L620.0,335.5 L621.0,335.1 L622.0,334.8 L622.9,334.7 L623.7,334.9 L624.4,335.2 Z" />
<path d="M625.7,335.6 L626.5,340.6 L622.4,344.7 L622.8,347.9 L627.3,350.4 L627.3,354.1 L640.4,346.3" />
<path d="M626.5,354.1 L626.1,366.8 L623.2,370.5 L618.3,372.5 L612.2,371.3 L612.2,356.9" />
<path d="M630.2,355.3 L630.2,360.2 L634.7,361.4 L639.6,360.2 L643.3,356.5 L643.7,344.7 L645.8,338.1 L649.0,336.1 L656.0,339.7 L660.0,336.1" />
<path d="M643.7,351.6 L656.8,343.8" />
<path d="M656.0,339.7 L656.4,343.8 L660.0,344.7" />
<path d="M638.4,377.4 L639.6,371.7 L647.0,363.9 L654.8,361.0" />
<path d="M638.4,377.4 L656.8,367.2" />
<path d="M597.4,402.4 L619.1,391.3 L622.0,392.2 L622.8,400.3 L660.0,377.4" />
<path d="M650.0,347.8 L656.1,344.2 L656.1,340.1 L662.3,345.4 L668.4,342.9 L669.7,339.7 L669.7,329.8" />
<path d="M650.0,337.2 L655.3,339.2 L684.0,320.0" />
<path d="M669.7,334.7 L681.5,328.6 L681.5,324.1" />
<path d="M681.5,328.2 L686.9,329.4 L692.6,327.4 L694.6,324.1 L694.6,320.0" />
<path d="M683.2,348.3 L685.2,340.5 L691.4,333.1 L699.5,332.3" />
<path d="M683.2,348.3 L701.6,337.2" />
<path d="M650.0,362.2 L654.9,361.4" />
<path d="M650.0,370.8 L657.0,367.1" />
<path d="M560.0,402.1 L603.4,427.2" />
<path d="M597.6,390.0 L597.6,403.3" />
<path d="M593.5,412.7 L593.5,404.3 L595.4,402.4 L597.9,402.7 L618.3,391.2 L621.4,391.2 L622.4,400.6" />
<path d="M593.5,412.7 L604.7,418.6" />
<path d="M611.2,407.4 L622.4,400.9" />
<path d="M540.0,262.9 L548.2,255.5 L557.2,249.0 L564.2,244.5 L564.6,238.3 L568.3,236.3 L571.5,235.0 L587.5,235.0 L592.4,230.1 L597.3,224.4 L607.2,217.8 L623.9,209.7 L625.6,206.0 L628.0,205.2 L630.0,205.2" />
<path d="M544.1,270.0 L549.0,264.5 L558.0,255.5 L564.6,250.2 L571.9,246.5 L579.3,243.2 L593.2,240.8 L596.5,239.1 L600.6,234.6 L605.5,229.3 L615.3,221.1 L630.0,215.0" />
<path d="M575.6,253.1 L584.6,247.3 L594.9,253.1 L585.9,258.0 Z" />
<path d="M583.77,251.15 q0,3.00 2.50,3.00 q2.50,0 2.50,-3.00" />
<path d="M575.6,253.1 L575.6,264.1 L566.2,264.5 L559.2,270.0" />
<path d="M585.9,258.0 L587.5,263.7 L591.6,270.0" />
<path d="M594.9,253.1 L597.3,259.6 L601.4,264.1 L607.2,267.4" />
<path d="M600.6,250.6 L603.9,243.2 L608.8,239.5 L618.6,239.1 L618.6,227.7 L627.2,222.8 L630.0,224.0" />
<path d="M618.6,227.7 L630.0,233.8" />
<path d="M629.0,250.2 L628.8,251.4 L628.0,252.6 L626.8,253.7 L625.2,254.6 L623.1,255.4 L620.9,255.9 L618.5,256.2 L616.1,256.1 L613.8,255.9 L611.7,255.3 L610.0,254.6 L608.6,253.6 L607.8,252.5 L607.4,251.3 L607.6,250.1 L608.4,248.9 L609.6,247.8 L611.3,246.9 L613.3,246.2 L615.5,245.6 L617.9,245.4 L620.3,245.4 L622.6,245.7 L624.7,246.2 L626.5,247.0 L627.8,247.9 L628.7,249.0 Z" />
<path d="M616.2,260.4 L630.0,258.0" />
<path d="M604.7,270.0 L614.1,262.5 L624.4,267.8" />
<path d="M569.44,238.86 q0,3.00 2.50,3.00 q2.50,0 2.50,-3.00" />
<path d="M630.0,204.2 L642.7,204.2 L652.1,194.7 L661.1,187.4 L674.2,180.0" />
<path d="M630.0,214.4 L646.4,210.3 L653.7,199.7 L665.2,189.8 L679.1,184.5 L699.6,180.8 L701.2,180.0" />
<path d="M706.6,175.1 L706.6,189.4 L698.8,190.2 L692.2,193.9 L689.0,198.8 L679.1,194.3" />
<path d="M717.1,198.1 L716.9,199.3 L716.2,200.5 L714.9,201.6 L713.2,202.6 L711.2,203.4 L708.9,203.9 L706.4,204.2 L704.0,204.2 L701.7,203.9 L699.5,203.3 L697.8,202.5 L696.4,201.6 L695.5,200.5 L695.2,199.2 L695.4,198.0 L696.1,196.8 L697.4,195.7 L699.1,194.7 L701.1,194.0 L703.4,193.4 L705.9,193.2 L708.3,193.2 L710.7,193.5 L712.8,194.0 L714.6,194.8 L715.9,195.8 L716.8,196.9 Z" />
<path d="M660.7,200.1 L669.3,195.2 L680.4,201.7 L670.9,206.6 Z" />
<path d="M668.04,198.15 q0,3.00 2.50,3.00 q2.50,0 2.50,-3.00" />
<path d="M660.7,200.1 L660.7,212.3 L651.3,212.3 L644.7,216.0 L641.5,224.6" />
<path d="M670.9,206.6 L672.6,211.9 L675.0,216.0 L683.2,221.4 L688.6,220.1 L689.8,216.4" />
<path d="M680.4,201.7 L682.4,206.2 L691.0,214.4" />
<path d="M682.4,206.2 L694.7,205.4 L699.2,208.3" />
<path d="M691.0,214.8 L699.6,209.9 L709.4,215.2 L700.4,220.5 Z" />
<path d="M698.75,214.53 q0,3.00 2.50,3.00 q2.50,0 2.50,-3.00" />
<path d="M709.4,215.2 L709.4,219.7 L700.4,220.5" />
<path d="M703.3,207.0 L707.0,208.7 L720.0,204.6" />
<path d="M707.0,208.7 L720.0,216.9" />
<path d="M685.7,230.0 L688.1,224.6 L692.2,223.0 L702.1,221.8 L711.9,220.1 L720.0,216.9" />
<path d="M671.7,223.2 L671.5,224.5 L670.8,225.7 L669.5,226.9 L667.7,227.9 L665.6,228.7 L663.3,229.2 L660.8,229.5 L658.2,229.5 L655.8,229.2 L653.7,228.6 L651.8,227.8 L650.4,226.8 L649.5,225.7 L649.2,224.4 L649.4,223.1 L650.2,221.9 L651.5,220.7 L653.2,219.7 L655.3,218.9 L657.7,218.4 L660.2,218.1 L662.7,218.1 L665.1,218.4 L667.3,219.0 L669.1,219.8 L670.5,220.8 L671.4,222.0 Z" />
<path d="M658.3,233.6 L673.4,230.8 L678.3,226.3 L685.3,230.0 L684.0,234.0 L678.3,240.6 L670.1,247.2" />
<path d="M648.8,241.8 L657.4,236.5 L668.1,242.2 L659.1,247.6 Z" />
<path d="M656.98,241.56 q0,3.00 2.50,3.00 q2.50,0 2.50,-3.00" />
<path d="M668.1,242.2 L668.1,248.0 L659.1,247.6 L659.1,252.9" />
<path d="M630.0,224.6 L637.8,228.7 L641.1,234.9 L648.0,241.0" />
<path d="M630.0,232.4 L637.8,229.1" />
<path d="M630.0,238.6 L637.4,245.9 L641.5,247.2 L647.2,245.5 L648.8,241.8" />
<path d="M630.0,257.0 L636.6,253.3 L642.3,256.6" />
<path d="M643.1,257.0 L658.7,253.3 L668.5,248.0" />
<path d="M692.2,228.3 L704.5,228.3 L714.4,233.2 L720.0,230.8" />
<path d="M704.5,228.3 L704.5,239.8" />
<path d="M692.2,228.3 L686.5,241.0 L693.5,245.1 L693.5,260.0" />
<path d="M667.7,260.0 L667.7,257.0 L676.7,252.1 L689.8,251.2 L693.5,245.1" />
<path d="M683.19,246.06 q0,3.00 2.50,3.00 q2.50,0 2.50,-3.00" />
<path d="M630.78,207.16 q0,3.00 2.50,3.00 q2.50,0 2.50,-3.00" />
<path d="M714.31,227.23 q0,3.00 2.50,3.00 q2.50,0 2.50,-3.00" />
<path d="M716.4,180.0 L718.0,184.9 L720.0,188.2" />
<path d="M744.6,183.5 L754.4,178.2 L766.7,170.8 L775.7,171.2 L779.0,174.9 L785.5,181.1 L786.3,190.1 L788.8,191.3 L801.9,197.0 L806.8,200.3 L810.0,203.6" />
<path d="M736.4,188.8 L744.6,183.9 L755.2,189.7 L746.2,194.6 Z" />
<path d="M744.12,188.97 q0,3.00 2.50,3.00 q2.50,0 2.50,-3.00" />
<path d="M755.2,189.7 L755.2,192.9 L746.2,194.6" />
<path d="M755.2,184.7 L772.4,174.9 L771.6,184.7 L763.4,190.1 L756.0,192.5" />
<path d="M720.0,203.6 L724.9,201.1 L736.4,207.7" />
<path d="M720.0,217.5 L727.4,213.8 L732.3,204.4 L734.7,200.3 L742.9,196.2 L755.2,193.7" />
<path d="M739.7,207.3 L742.9,200.7 L746.2,198.7 L751.9,198.7 L754.4,201.5 L758.5,204.4 L763.4,205.2 L772.4,201.1 L787.2,194.2 L803.9,203.6 L804.4,206.0 L802.7,208.1 L788.0,217.1" />
<path d="M739.7,207.3 L740.5,210.9 L745.4,215.5 L745.4,242.1" />
<path d="M753.6,201.1 L753.6,212.6" />
<path d="M763.4,205.2 L763.4,230.6" />
<path d="M787.6,194.6 L787.6,217.1" />
<path d="M720.0,232.2 L724.1,229.0 L724.5,224.9 L741.3,218.7 L745.4,215.5" />
<path d="M725.3,229.0 L725.3,250.0" />
<path d="M735.6,250.0 L763.4,231.0 L788.0,217.1" />
<path d="M748.7,250.0 L787.2,226.5 L806.4,214.6" />
<path d="M787.2,226.9 L790.4,227.7 L792.5,230.6 L792.5,237.2 L790.8,239.6 L792.5,242.1 L792.5,250.0" />
<path d="M735.93,214.36 q0,3.00 2.50,3.00 q2.50,0 2.50,-3.00" />
<path d="M763.36,197.57 q0,3.00 2.50,3.00 q2.50,0 2.50,-3.00" />
<path d="M778.10,188.15 q0,3.00 2.50,3.00 q2.50,0 2.50,-3.00" />
<path d="M690.0,174.5 L695.3,175.3 L697.6,174.1 L710.5,161.2 L724.1,154.4 L731.0,153.7 L739.7,153.5 L754.5,160.5 L766.3,170.3" />
<path d="M690.0,182.5 L699.9,181.4 L704.0,176.4 L712.0,168.1 L717.3,163.1 L726.4,158.2 L739.7,158.2 L740.5,160.5 L737.0,163.1 L726.4,168.5" />
<path d="M706.3,175.3 L715.0,169.2 L726.4,175.3 L716.6,181.0 Z" />
<path d="M714.06,173.02 q0,3.00 2.50,3.00 q2.50,0 2.50,-3.00" />
<path d="M716.6,181.0 L719.2,187.0 L723.4,191.6 L730.2,195.4 L735.1,194.2 L735.9,188.6" />
<path d="M726.4,175.3 L729.5,183.6 L735.9,188.2" />
<path d="M729.5,174.5 L742.4,166.9 L754.5,160.5" />
<path d="M742.4,166.9 L745.0,172.6 L751.8,177.9" />
<path d="M733.6,173.4 L735.5,178.7 L743.9,183.2" />
<path d="M787.8,191.7 L805.6,199.6 L809.3,203.3 L810.5,210.7 L806.8,214.4 L770.0,236.4" />
<path d="M770.0,202.7 L787.2,194.7 L804.4,203.9 L803.7,207.6 L787.8,216.8" />
<path d="M787.2,194.7 L787.2,217.4" />
<path d="M770.0,227.9 L787.8,217.4" />
<path d="M806.3,214.3 L806.3,228.5 L809.4,228.5 L810.6,230.6 L810.0,234.3 L806.3,238.0 L806.3,281.8" />
<path d="M806.3,246.0 L810.0,249.6 L809.7,253.9 L806.3,255.0" />
<path d="M798.0,232.4 L806.3,228.5" />
<path d="M798.0,241.7 L806.3,238.0" />
<path d="M770.0,257.9 L781.0,251.2" />
<path d="M782.3,256.1 L782.3,263.4 L787.2,264.7 L793.3,262.2 L794.5,254.8 L801.9,251.2" />
<path d="M770.0,269.6 L782.3,263.4" />
<path d="M773.1,293.5 L774.9,286.1 L781.0,278.8 L789.0,278.2" />
<path d="M773.1,293.5 L790.2,283.7" />
<path d="M806.2,281.8 L812.9,284.3 L812.9,295.3 L805.6,299.9" />
<path d="M806.2,281.8 L795.8,288.0 L795.8,292.3 L784.7,299.9" />
<path d="M674.2,180.0 L675.8,179.2 L677.4,175.1 L684.0,173.6 L688.6,173.6 L690.0,174.5" />
<path d="M679.50,177.40 q0,3.00 2.50,3.00 q2.50,0 2.50,-3.00" />
<path d="M627.3,325.0 L650.0,311.1" />
<path d="M626.00,226.50 q0,3.00 2.50,3.00 q2.50,0 2.50,-3.00" />
<path d="M712.3,263.3 L766.5,230.0" />
<path d="M725.3,248.0 L725.3,253.8" />
<path d="M646.2,325.0 L650.0,322.7" />
<path d="M1032.9,213.5 L1039.2,210.7 L1048.6,205.5 L1046.5,202.4 L1048.9,198.2 L1051.3,197.4 L1062.5,197.4 L1065.9,199.3 L1070.8,199.3 L1075.7,195.4 L1078.8,191.3" />
<path d="M1032.9,213.5 L1032.9,228.7" />
<path d="M1032.9,221.5 L1045.1,226.7" />
<path d="M1032.9,228.7 L1041.6,233.2" />
<path d="M1043.3,217.6 L1048.6,214.9 L1056.9,211.1 L1065.2,206.2 L1072.2,204.1 L1077.8,202.4 L1084.7,196.5 L1088.9,191.3" />
<path d="M1043.3,217.6 L1049.6,222.8 L1046.8,224.9 L1048.9,227.3 L1052.7,235.0 L1059.7,242.6 L1066.6,243.6 L1073.6,243.0 L1075.7,240.5" />
<path d="M1045.4,228.4 L1048.6,234.3 L1054.1,242.3 L1060.4,246.8 L1067.3,248.5 L1072.2,246.1 L1073.9,243.0" />
<path d="M1032.9,259.0 L1032.9,239.1 L1040.9,233.9 L1040.9,242.3 L1034.6,239.1" />
<path d="M1040.2,248.1 L1040.4,248.7 L1040.4,249.3 L1040.4,250.0 L1040.2,250.5 L1039.9,251.0 L1039.6,251.3 L1039.1,251.6 L1038.6,251.7 L1038.1,251.6 L1037.6,251.5 L1037.1,251.1 L1036.7,250.7 L1036.3,250.2 L1036.0,249.6 L1035.9,249.0 L1035.8,248.4 L1035.9,247.7 L1036.0,247.2 L1036.3,246.7 L1036.7,246.4 L1037.1,246.1 L1037.6,246.0 L1038.1,246.1 L1038.7,246.2 L1039.1,246.6 L1039.6,247.0 L1039.9,247.5 Z" />
<path d="M1039.5,259.0 L1039.9,255.1 L1045.4,252.3 L1045.8,246.8 L1056.2,251.6 L1066.6,257.9" />
<path d="M1056.2,251.6 L1056.2,259.0" />
<path d="M1071.3,254.0 L1071.5,254.7 L1071.5,255.4 L1071.5,256.1 L1071.3,256.7 L1071.0,257.2 L1070.7,257.6 L1070.2,257.8 L1069.7,257.9 L1069.1,257.9 L1068.6,257.7 L1068.1,257.3 L1067.6,256.8 L1067.2,256.2 L1066.9,255.5 L1066.7,254.8 L1066.6,254.1 L1066.7,253.4 L1066.8,252.8 L1067.1,252.3 L1067.5,251.9 L1067.9,251.7 L1068.5,251.6 L1069.0,251.6 L1069.6,251.8 L1070.1,252.2 L1070.6,252.7 L1071.0,253.3 Z" />
<path d="M1066.3,213.1 L1073.6,207.2 L1084.7,212.8 L1075.3,217.6 Z" />
<path d="M1072.56,210.64 q0,2.91 2.42,2.91 q2.42,0 2.42,-2.91" />
<path d="M1057.9,221.8 L1057.9,215.6 L1066.3,213.1" />
<path d="M1075.0,218.0 L1076.4,222.5 L1079.2,226.7 L1083.3,230.8 L1087.2,232.6 L1090.6,231.5 L1093.4,229.1 L1093.8,226.7" />
<path d="M1084.7,214.9 L1086.8,219.0 L1090.3,223.2 L1094.5,225.3" />
<path d="M1084.7,214.9 L1088.2,213.8 L1093.1,213.8 L1099.3,215.9 L1102.1,219.7" />
<path d="M1092.4,227.3 L1101.4,221.8 L1105.4,223.9" />
<path d="M1099.69,225.89 q0,2.91 2.42,2.91 q2.42,0 2.42,-2.91" />
<path d="M1093.1,228.7 L1105.4,232.9" />
<path d="M1102.8,232.2 L1102.8,239.8" />
<path d="M1075.7,240.5 L1085.4,234.3 L1097.2,240.9 L1101.4,240.9 L1105.4,239.1" />
<path d="M1075.7,240.5 L1088.2,247.5 L1097.2,251.6 L1105.4,248.2" />
<path d="M1097.9,251.6 L1097.9,259.0" />
<path d="M1097.26,246.70 q0,2.91 2.42,2.91 q2.42,0 2.42,-2.91" />
<path d="M1061.8,230.1 L1072.2,235.3" />
<path d="M1092.0,207.2 L1095.5,199.6 L1101.4,195.4 L1105.4,195.1" />
<path d="M1105.4,203.1 L1103.5,203.8 L1099.3,207.2 L1105.4,211.7" />
<path d="M1105.4,195.8 L1110.6,195.8 L1110.6,191.3" />
<path d="M1121.0,191.3 L1122.1,195.4 L1126.3,199.6 L1133.2,204.1 L1138.1,203.4 L1139.5,199.6 L1141.6,198.2" />
<path d="M1131.8,191.3 L1136.0,194.8 L1141.6,197.9" />
<path d="M1139.8,198.9 L1148.5,193.4 L1159.3,199.6 L1149.6,204.1 Z" />
<path d="M1147.48,198.15 q0,2.91 2.42,2.91 q2.42,0 2.42,-2.91" />
<path d="M1149.6,204.1 L1149.6,211.7" />
<path d="M1165.2,191.3 L1159.3,200.3 L1154.1,209.5 L1149.6,211.7 L1141.6,215.6 L1138.1,215.6" />
<path d="M1105.4,203.4 L1114.4,202.0 L1120.0,204.1 L1121.7,207.2 L1119.6,210.0 L1114.4,212.1 L1108.2,212.8 L1105.4,211.7" />
<path d="M1108.5,216.9 L1118.6,214.9 L1128.3,209.7 L1138.1,215.2" />
<path d="M1105.4,223.2 L1112.3,227.3 L1105.4,230.5" />
<path d="M1112.3,227.3 L1119.3,219.0 L1137.4,216.6" />
<path d="M1112.3,227.3 L1108.9,235.7 L1105.4,240.5" />
<path d="M1121.4,224.6 L1126.3,223.5 L1131.1,223.5 L1136.0,226.0 L1138.8,227.3 L1145.7,226.7 L1146.4,222.8 L1147.8,219.4 L1154.1,216.3 L1159.3,213.1 L1165.2,213.1 L1165.9,213.8 L1171.5,213.8 L1173.2,209.3" />
<path d="M1121.4,224.6 L1120.0,230.1 L1123.5,232.9 L1125.6,234.6 L1124.9,236.4 L1121.0,239.1 L1112.3,244.0 L1108.2,246.8 L1105.4,247.8" />
<path d="M1136.0,226.7 L1136.0,252.3" />
<path d="M1147.5,223.5 L1147.5,253.0" />
<path d="M1173.9,209.3 L1173.9,237.1" />
<path d="M1120.3,244.7 L1136.0,252.3 L1142.2,255.4 L1147.1,254.1 L1173.9,237.4 L1183.1,232.2" />
<path d="M1108.9,246.1 L1114.4,248.2 L1131.8,259.0" />
<path d="M1111.6,248.2 L1111.6,259.0" />
<path d="M1183.1,192.3 L1177.7,192.7 L1171.5,195.4 L1170.1,198.9 L1168.0,203.8 L1170.1,205.8 L1173.9,209.0" />
<path d="M1114.09,235.26 q0,2.91 2.42,2.91 q2.42,0 2.42,-2.91" />
<path d="M1137.74,222.77 q0,2.91 2.42,2.91 q2.42,0 2.42,-2.91" />
<path d="M1163.47,207.86 q0,2.91 2.42,2.91 q2.42,0 2.42,-2.91" />
<path d="M1183.1,192.3 L1185.9,192.7 L1192.1,195.8 L1196.3,195.4 L1201.9,194.4 L1201.9,219.7" />
<path d="M1192.5,201.0 L1192.5,224.9" />
<path d="M1183.1,231.5 L1201.9,219.7 L1225.2,205.8 L1230.0,204.1 L1230.0,215.9" />
<path d="M1225.2,191.3 L1225.2,205.8" />
<path d="M1231.8,211.4 L1241.5,205.2 L1243.6,205.8 L1243.6,194.4 L1249.2,191.3" />
<path d="M1260.8,192.7 L1255.4,195.4 L1255.4,205.8 L1260.8,203.1" />
<path d="M1183.1,240.2 L1222.0,216.6" />
<path d="M1222.4,215.9 L1222.4,227.3 L1183.1,252.0" />
<path d="M1244.3,223.9 L1258.2,214.2 L1260.8,213.5" />
<path d="M1225.5,241.2 L1226.9,235.7 L1231.8,231.2 L1235.9,230.5 L1239.4,232.2 L1242.9,230.5 L1260.8,219.0" />
<path d="M1201.5,259.0 L1225.5,243.0" />
<path d="M1226.9,246.8 L1238.7,239.8 L1240.1,240.9 L1242.9,241.9 L1248.5,241.6 L1251.6,238.4 L1251.6,226.0" />
<path d="M1240.1,237.1 L1240.1,240.9" />
<path d="M1251.6,231.2 L1260.8,226.3" />
<path d="M1226.9,246.1 L1226.9,253.7 L1224.8,256.5 L1219.3,258.2 L1213.7,256.5 L1213.7,253.7" />
<path d="M1231.43,236.65 q0,2.91 2.42,2.91 q2.42,0 2.42,-2.91" />
<path d="M1260.8,191.5 L1278.3,181.6" />
<path d="M1260.8,203.4 L1273.5,196.3 L1277.1,192.7 L1275.9,189.5" />
<path d="M1273.5,196.3 L1276.7,203.4" />
<path d="M1279.5,201.4 L1309.7,182.8" />
<path d="M1260.8,213.3 L1271.9,206.2" />
<path d="M1260.8,218.9 L1276.3,209.8" />
<path d="M1260.8,225.6 L1265.5,223.2" />
<path d="M1267.1,219.7 L1267.1,222.0 L1271.1,224.4 L1273.5,224.4 L1277.5,221.3 L1277.9,209.8" />
<path d="M1277.9,215.3 L1287.8,209.8" />
<path d="M1289.4,199.4 L1289.4,209.0 L1293.4,210.1 L1299.0,209.0 L1300.1,205.4 L1300.1,200.2 L1311.7,195.5 L1311.7,187.5" />
<path d="M1311.7,195.1 L1316.5,195.9 L1322.8,192.7 L1323.2,187.2 L1330.4,182.8" />
<path d="M1301.7,224.8 L1304.1,216.5 L1309.3,210.1 L1317.6,209.0" />
<path d="M1301.7,224.8 L1319.6,213.7" />
<path d="M1261.2,248.6 L1262.4,241.9 L1267.9,236.3 L1275.9,234.3" />
<path d="M1261.2,248.6 L1277.9,239.1" />
<path d="M1137.8,353.2 L1340.7,226.0 L1340.7,214.5 L1335.2,212.1 L1335.2,190.3" />
<path d="M1139.1,344.9 L1328.4,226.4" />
<path d="M1156.3,327.4 L1324.4,222.9 L1324.4,218.5 L1335.2,212.1" />
<path d="M1033.3,254.2 L1032.9,288.7 L1036.4,293.9 L1041.2,298.2 L1047.6,301.8 L1050.8,299.8 L1053.1,301.0 L1054.7,305.4 L1099.3,331.7" />
<path d="M1039.6,254.2 L1040.0,272.9 L1056.3,263.7 L1056.3,254.2" />
<path d="M1040.0,272.9 L1044.0,275.6 L1046.4,280.4 L1046.8,286.7 L1071.0,299.4 L1073.4,294.3 L1077.8,293.1 L1081.8,295.1 L1081.8,284.4 L1078.6,282.4 L1063.5,276.0 L1046.8,284.8" />
<path d="M1056.3,263.7 L1059.5,266.9 L1061.9,271.7 L1063.5,276.0" />
<path d="M1061.9,254.2 L1066.7,257.8 L1072.2,263.7 L1075.0,270.1 L1074.6,273.3 L1073.8,274.5 L1075.0,278.4 L1077.8,282.4" />
<path d="M1041.2,282.7 L1041.4,283.3 L1041.5,284.0 L1041.6,284.6 L1041.5,285.2 L1041.2,285.7 L1040.9,286.1 L1040.5,286.4 L1040.1,286.5 L1039.6,286.5 L1039.0,286.3 L1038.5,286.0 L1038.0,285.6 L1037.6,285.1 L1037.3,284.5 L1037.0,283.8 L1036.9,283.2 L1036.9,282.5 L1037.0,281.9 L1037.2,281.4 L1037.5,281.0 L1037.9,280.8 L1038.4,280.6 L1038.9,280.7 L1039.4,280.8 L1039.9,281.1 L1040.4,281.5 L1040.8,282.1 Z" />
<path d="M1082.5,276.7 L1082.8,277.4 L1082.9,278.0 L1082.9,278.7 L1082.8,279.3 L1082.6,279.8 L1082.3,280.2 L1081.9,280.4 L1081.4,280.6 L1080.9,280.5 L1080.4,280.4 L1079.9,280.1 L1079.4,279.7 L1079.0,279.1 L1078.6,278.5 L1078.4,277.9 L1078.3,277.2 L1078.2,276.6 L1078.3,276.0 L1078.6,275.5 L1078.9,275.1 L1079.3,274.8 L1079.7,274.7 L1080.2,274.7 L1080.8,274.9 L1081.3,275.2 L1081.8,275.6 L1082.2,276.1 Z" />
<path d="M1078.1,300.5 L1078.4,301.2 L1078.5,301.8 L1078.5,302.5 L1078.4,303.1 L1078.2,303.6 L1077.9,304.0 L1077.5,304.2 L1077.1,304.4 L1076.5,304.3 L1076.0,304.2 L1075.5,303.9 L1075.0,303.4 L1074.6,302.9 L1074.3,302.3 L1074.0,301.7 L1073.9,301.0 L1073.9,300.4 L1074.0,299.8 L1074.2,299.3 L1074.5,298.9 L1074.9,298.6 L1075.4,298.5 L1075.9,298.5 L1076.4,298.7 L1076.9,299.0 L1077.4,299.4 L1077.8,299.9 Z" />
<path d="M1098.0,280.7 L1098.3,281.3 L1098.4,282.0 L1098.4,282.6 L1098.3,283.2 L1098.1,283.7 L1097.8,284.1 L1097.4,284.4 L1096.9,284.5 L1096.4,284.5 L1095.9,284.3 L1095.4,284.0 L1094.9,283.6 L1094.5,283.1 L1094.2,282.5 L1093.9,281.8 L1093.8,281.2 L1093.8,280.5 L1093.9,280.0 L1094.1,279.5 L1094.4,279.1 L1094.8,278.8 L1095.2,278.7 L1095.7,278.7 L1096.3,278.8 L1096.8,279.1 L1097.3,279.6 L1097.7,280.1 Z" />
<path d="M1096.8,296.2 L1097.1,296.8 L1097.2,297.5 L1097.2,298.1 L1097.1,298.7 L1096.9,299.2 L1096.6,299.6 L1096.2,299.9 L1095.7,300.0 L1095.2,300.0 L1094.7,299.8 L1094.2,299.5 L1093.7,299.1 L1093.3,298.6 L1093.0,298.0 L1092.7,297.3 L1092.6,296.6 L1092.6,296.0 L1092.7,295.4 L1092.9,294.9 L1093.2,294.5 L1093.6,294.2 L1094.0,294.1 L1094.6,294.1 L1095.1,294.3 L1095.6,294.6 L1096.1,295.0 L1096.5,295.6 Z" />
<path d="M1071.0,254.5 L1071.2,255.2 L1071.4,255.8 L1071.4,256.5 L1071.3,257.1 L1071.1,257.6 L1070.8,258.0 L1070.4,258.2 L1069.9,258.4 L1069.4,258.3 L1068.9,258.2 L1068.4,257.9 L1067.9,257.4 L1067.5,256.9 L1067.1,256.3 L1066.9,255.7 L1066.7,255.0 L1066.7,254.4 L1066.8,253.8 L1067.0,253.3 L1067.3,252.9 L1067.7,252.6 L1068.2,252.5 L1068.7,252.5 L1069.2,252.7 L1069.7,253.0 L1070.2,253.4 L1070.6,253.9 Z" />
<path d="M1097.7,254.2 L1097.7,264.1 L1111.6,257.4 L1111.6,254.2" />
<path d="M1097.3,264.1 L1115.1,274.1" />
<path d="M1111.6,257.4 L1115.1,259.4" />
<path d="M1105.4,260.6 L1111.7,257.4 L1111.7,254.2" />
<path d="M1111.7,257.4 L1136.4,271.3" />
<path d="M1124.5,254.2 L1138.8,262.6 L1146.7,263.0 L1161.1,254.2" />
<path d="M1165.0,263.7 L1179.4,254.2" />
<path d="M1105.4,268.9 L1132.4,283.6 L1134.8,286.7 L1135.6,290.7 L1135.6,309.7" />
<path d="M1135.6,309.3 L1144.8,304.6" />
<path d="M1135.6,309.7 L1132.0,309.0 L1132.0,330.4 L1128.1,331.7" />
<path d="M1158.7,264.5 L1158.9,265.1 L1159.0,265.8 L1158.8,266.6 L1158.5,267.4 L1157.9,268.3 L1157.2,269.0 L1156.4,269.7 L1155.4,270.3 L1154.5,270.7 L1153.5,270.9 L1152.6,271.0 L1151.8,270.9 L1151.2,270.6 L1150.7,270.1 L1150.4,269.5 L1150.4,268.8 L1150.5,268.0 L1150.9,267.2 L1151.5,266.4 L1152.2,265.6 L1153.0,264.9 L1154.0,264.4 L1154.9,264.0 L1155.9,263.7 L1156.8,263.7 L1157.6,263.8 L1158.2,264.1 Z" />
<path d="M1159.5,264.5 L1160.3,269.3 L1156.3,273.3 L1156.7,276.4 L1161.1,278.8 L1161.1,282.4 L1173.8,274.8" />
<path d="M1160.3,282.4 L1159.9,294.7 L1157.1,298.2 L1152.3,300.2 L1146.3,299.0 L1146.3,285.2" />
<path d="M1163.8,283.6 L1163.8,288.3 L1168.2,289.5 L1173.0,288.3 L1176.6,284.8 L1177.0,273.3 L1179.0,266.9 L1182.1,264.9 L1188.9,268.5 L1192.8,264.9" />
<path d="M1177.0,280.0 L1189.7,272.5" />
<path d="M1188.9,268.5 L1189.3,272.5 L1192.8,273.3" />
<path d="M1171.8,305.0 L1173.0,299.4 L1180.1,291.9 L1187.7,289.1" />
<path d="M1171.8,305.0 L1189.7,295.1" />
<path d="M1132.0,329.2 L1153.1,318.5 L1155.9,319.3 L1156.7,327.2 L1192.8,305.0" />
<path d="M1183.1,276.4 L1189.0,272.8 L1189.0,268.8 L1195.0,274.0 L1201.0,271.6 L1202.2,268.4 L1202.2,258.9" />
<path d="M1183.1,266.0 L1188.2,268.0 L1216.1,249.4" />
<path d="M1202.2,263.7 L1213.7,257.7 L1213.7,253.4" />
<path d="M1213.7,257.3 L1218.9,258.5 L1224.4,256.5 L1226.4,253.4 L1226.4,249.4" />
<path d="M1215.3,276.7 L1217.3,269.2 L1223.2,262.1 L1231.2,261.3" />
<path d="M1215.3,276.7 L1233.2,266.0" />
<path d="M1183.1,290.2 L1187.9,289.4" />
<path d="M1183.1,298.6 L1189.8,295.0" />
<path d="M1095.7,328.9 L1137.9,353.2" />
<path d="M1132.1,317.2 L1132.1,330.1" />
<path d="M1128.2,339.1 L1128.2,331.0 L1130.0,329.2 L1132.4,329.5 L1152.3,318.4 L1155.4,318.4 L1156.3,327.4" />
<path d="M1128.2,339.1 L1139.1,344.8" />
<path d="M1145.4,334.0 L1156.3,327.7" />
<path d="M1076.2,194.1 L1084.2,186.9 L1093.0,180.6 L1099.7,176.2 L1100.1,170.3 L1103.7,168.3 L1106.9,167.1 L1122.4,167.1 L1127.2,162.4 L1131.9,156.8 L1141.5,150.5 L1157.8,142.5 L1159.4,139.0 L1161.7,138.2 L1163.7,138.2" />
<path d="M1080.2,201.0 L1085.0,195.7 L1093.7,186.9 L1100.1,181.8 L1107.3,178.2 L1114.4,175.0 L1127.9,172.7 L1131.1,171.1 L1135.1,166.7 L1139.9,161.6 L1149.4,153.6 L1163.7,147.7" />
<path d="M1110.8,184.6 L1119.6,179.0 L1129.5,184.6 L1120.8,189.3 Z" />
<path d="M1118.76,182.71 q0,2.91 2.42,2.91 q2.42,0 2.42,-2.91" />
<path d="M1110.8,184.6 L1110.8,195.3 L1101.7,195.7 L1094.9,201.0" />
<path d="M1120.8,189.3 L1122.4,194.9 L1126.4,201.0" />
<path d="M1129.5,184.6 L1131.9,190.9 L1135.9,195.3 L1141.5,198.4" />
<path d="M1135.1,182.2 L1138.3,175.0 L1143.1,171.5 L1152.6,171.1 L1152.6,160.0 L1161.0,155.2 L1163.7,156.4" />
<path d="M1152.6,160.0 L1163.7,165.9" />
<path d="M1162.7,181.8 L1162.5,183.0 L1161.8,184.1 L1160.6,185.2 L1158.9,186.1 L1157.0,186.8 L1154.8,187.3 L1152.5,187.6 L1150.1,187.6 L1147.9,187.3 L1145.9,186.8 L1144.2,186.0 L1142.9,185.1 L1142.1,184.0 L1141.7,182.9 L1141.9,181.7 L1142.6,180.6 L1143.8,179.5 L1145.5,178.6 L1147.4,177.9 L1149.6,177.4 L1151.9,177.1 L1154.3,177.1 L1156.5,177.4 L1158.5,177.9 L1160.2,178.7 L1161.5,179.6 L1162.4,180.6 Z" />
<path d="M1150.2,191.7 L1163.7,189.3" />
<path d="M1139.1,201.0 L1148.2,193.7 L1158.2,198.8" />
<path d="M1104.84,170.81 q0,2.91 2.42,2.91 q2.42,0 2.42,-2.91" />
<path d="M1163.7,137.2 L1176.0,137.2 L1185.1,128.1 L1193.9,120.9 L1206.6,113.8" />
<path d="M1163.7,147.1 L1179.6,143.2 L1186.7,132.8 L1197.9,123.3 L1211.4,118.2 L1231.3,114.6 L1232.9,113.8" />
<path d="M1238.0,109.1 L1238.0,122.9 L1230.5,123.7 L1224.1,127.3 L1220.9,132.1 L1211.4,127.7" />
<path d="M1248.3,131.3 L1248.1,132.5 L1247.4,133.7 L1246.1,134.8 L1244.5,135.7 L1242.5,136.4 L1240.3,137.0 L1237.9,137.2 L1235.5,137.2 L1233.2,136.9 L1231.2,136.4 L1229.5,135.6 L1228.1,134.7 L1227.3,133.6 L1227.0,132.5 L1227.2,131.3 L1227.9,130.1 L1229.1,129.0 L1230.8,128.1 L1232.7,127.3 L1235.0,126.8 L1237.3,126.6 L1239.7,126.6 L1242.0,126.9 L1244.1,127.4 L1245.8,128.1 L1247.1,129.1 L1248.0,130.2 Z" />
<path d="M1193.5,133.2 L1201.8,128.5 L1212.6,134.8 L1203.4,139.6 Z" />
<path d="M1200.60,131.39 q0,2.91 2.42,2.91 q2.42,0 2.42,-2.91" />
<path d="M1193.5,133.2 L1193.5,145.1 L1184.3,145.1 L1178.0,148.7 L1174.8,157.0" />
<path d="M1203.4,139.6 L1205.0,144.7 L1207.4,148.7 L1215.4,153.9 L1220.5,152.7 L1221.7,149.1" />
<path d="M1212.6,134.8 L1214.6,139.2 L1222.9,147.1" />
<path d="M1214.6,139.2 L1226.5,138.4 L1230.9,141.2" />
<path d="M1222.9,147.5 L1231.3,142.8 L1240.8,147.9 L1232.1,153.1 Z" />
<path d="M1230.43,147.25 q0,2.91 2.42,2.91 q2.42,0 2.42,-2.91" />
<path d="M1240.8,147.9 L1240.8,152.3 L1232.1,153.1" />
<path d="M1234.8,140.0 L1238.4,141.6 L1251.1,137.6" />
<path d="M1238.4,141.6 L1251.1,149.5" />
<path d="M1217.7,162.2 L1220.1,157.0 L1224.1,155.4 L1233.6,154.3 L1243.2,152.7 L1251.1,149.5" />
<path d="M1204.2,155.7 L1204.0,156.9 L1203.2,158.1 L1202.0,159.2 L1200.3,160.2 L1198.3,161.0 L1196.0,161.5 L1193.5,161.8 L1191.1,161.7 L1188.7,161.5 L1186.6,160.9 L1184.9,160.1 L1183.5,159.1 L1182.6,158.0 L1182.3,156.8 L1182.5,155.6 L1183.2,154.4 L1184.5,153.3 L1186.2,152.3 L1188.2,151.5 L1190.5,151.0 L1193.0,150.7 L1195.4,150.7 L1197.7,151.0 L1199.8,151.6 L1201.6,152.4 L1203.0,153.3 L1203.9,154.5 Z" />
<path d="M1191.1,165.8 L1205.8,163.0 L1210.6,158.6 L1217.3,162.2 L1216.1,166.2 L1210.6,172.5 L1202.6,178.8" />
<path d="M1181.9,173.7 L1190.3,168.5 L1200.6,174.1 L1191.9,179.2 Z" />
<path d="M1189.86,173.42 q0,2.91 2.42,2.91 q2.42,0 2.42,-2.91" />
<path d="M1200.6,174.1 L1200.6,179.6 L1191.9,179.2 L1191.9,184.4" />
<path d="M1163.7,157.0 L1171.2,161.0 L1174.4,166.9 L1181.2,172.9" />
<path d="M1163.7,164.6 L1171.2,161.4" />
<path d="M1163.7,170.5 L1170.8,177.7 L1174.8,178.8 L1180.4,177.3 L1181.9,173.7" />
<path d="M1163.7,188.4 L1170.0,184.8 L1175.6,188.0" />
<path d="M1176.4,188.4 L1191.5,184.8 L1201.0,179.6" />
<path d="M1224.1,160.6 L1236.0,160.6 L1245.6,165.4 L1251.1,163.0" />
<path d="M1236.0,160.6 L1236.0,171.7" />
<path d="M1224.1,160.6 L1218.5,172.9 L1225.3,176.9 L1225.3,191.3" />
<path d="M1200.2,191.3 L1200.2,188.4 L1209.0,183.6 L1221.7,182.8 L1225.3,176.9" />
<path d="M1215.31,177.78 q0,2.91 2.42,2.91 q2.42,0 2.42,-2.91" />
<path d="M1164.41,140.11 q0,2.91 2.42,2.91 q2.42,0 2.42,-2.91" />
<path d="M1245.54,159.54 q0,2.91 2.42,2.91 q2.42,0 2.42,-2.91" />
<path d="M1247.6,113.8 L1249.2,118.6 L1251.1,121.7" />
<path d="M1274.9,117.2 L1284.5,112.1 L1296.4,104.9 L1305.1,105.3 L1308.3,108.9 L1314.7,114.8 L1315.5,123.6 L1317.9,124.7 L1330.6,130.3 L1335.4,133.5 L1338.5,136.6" />
<path d="M1267.0,122.4 L1274.9,117.6 L1285.3,123.2 L1276.5,127.9 Z" />
<path d="M1274.49,122.50 q0,2.91 2.42,2.91 q2.42,0 2.42,-2.91" />
<path d="M1285.3,123.2 L1285.3,126.3 L1276.5,127.9" />
<path d="M1285.3,118.4 L1302.0,108.9 L1301.2,118.4 L1293.2,123.6 L1286.1,125.9" />
<path d="M1251.1,136.6 L1255.8,134.3 L1267.0,140.6" />
<path d="M1251.1,150.1 L1258.2,146.6 L1263.0,137.4 L1265.4,133.5 L1273.3,129.5 L1285.3,127.1" />
<path d="M1270.2,140.2 L1273.3,133.9 L1276.5,131.9 L1282.1,131.9 L1284.5,134.7 L1288.4,137.4 L1293.2,138.2 L1302.0,134.3 L1316.3,127.5 L1332.6,136.6 L1333.0,139.0 L1331.4,141.0 L1317.1,149.7" />
<path d="M1270.2,140.2 L1270.9,143.8 L1275.7,148.1 L1275.7,173.9" />
<path d="M1283.7,134.3 L1283.7,145.4" />
<path d="M1293.2,138.2 L1293.2,162.8" />
<path d="M1316.7,127.9 L1316.7,149.7" />
<path d="M1251.1,164.4 L1255.0,161.2 L1255.4,157.3 L1271.7,151.3 L1275.7,148.1" />
<path d="M1256.2,161.2 L1256.2,181.6" />
<path d="M1266.2,181.6 L1293.2,163.2 L1317.1,149.7" />
<path d="M1278.9,181.6 L1316.3,158.8 L1335.0,147.3" />
<path d="M1316.3,159.2 L1319.5,160.0 L1321.5,162.8 L1321.5,169.2 L1319.9,171.5 L1321.5,173.9 L1321.5,181.6" />
<path d="M1266.53,147.08 q0,2.91 2.42,2.91 q2.42,0 2.42,-2.91" />
<path d="M1293.18,130.83 q0,2.91 2.42,2.91 q2.42,0 2.42,-2.91" />
<path d="M1307.49,121.71 q0,2.91 2.42,2.91 q2.42,0 2.42,-2.91" />
<path d="M1221.9,108.5 L1227.1,109.2 L1229.3,108.1 L1241.8,95.6 L1255.1,89.0 L1261.7,88.3 L1270.2,88.2 L1284.6,94.9 L1296.0,104.5" />
<path d="M1221.9,116.2 L1231.5,115.1 L1235.6,110.3 L1243.3,102.3 L1248.5,97.5 L1257.3,92.7 L1270.2,92.7 L1270.9,94.9 L1267.6,97.5 L1257.3,102.6" />
<path d="M1237.8,109.2 L1246.2,103.4 L1257.3,109.2 L1247.7,114.8 Z" />
<path d="M1245.29,107.05 q0,2.91 2.42,2.91 q2.42,0 2.42,-2.91" />
<path d="M1247.7,114.8 L1250.3,120.6 L1254.4,125.0 L1261.0,128.7 L1265.8,127.6 L1266.5,122.1" />
<path d="M1257.3,109.2 L1260.2,117.3 L1266.5,121.7" />
<path d="M1260.2,108.5 L1272.8,101.2 L1284.6,94.9" />
<path d="M1272.8,101.2 L1275.4,106.7 L1282.0,111.8" />
<path d="M1264.3,107.4 L1266.1,112.5 L1274.2,117.0" />
<path d="M1316.9,125.1 L1334.2,132.8 L1337.8,136.4 L1338.9,143.5 L1335.4,147.1 L1299.6,168.5" />
<path d="M1299.6,135.8 L1316.3,128.1 L1333.0,137.0 L1332.4,140.5 L1316.9,149.5" />
<path d="M1316.3,128.1 L1316.3,150.1" />
<path d="M1299.6,160.2 L1316.9,150.1" />
<path d="M1334.9,147.0 L1334.9,160.8 L1337.9,160.8 L1339.1,162.8 L1338.5,166.4 L1334.9,170.0 L1334.9,212.4" />
<path d="M1334.9,177.7 L1338.5,181.2 L1338.2,185.4 L1334.9,186.4" />
<path d="M1326.8,164.6 L1334.9,160.8" />
<path d="M1326.8,173.6 L1334.9,170.0" />
<path d="M1299.6,189.3 L1310.3,182.7" />
<path d="M1311.5,187.5 L1311.5,194.6 L1316.3,195.8 L1322.3,193.4 L1323.5,186.3 L1330.6,182.7" />
<path d="M1299.6,200.6 L1311.5,194.6" />
<path d="M1302.6,223.7 L1304.4,216.6 L1310.3,209.5 L1318.1,208.9" />
<path d="M1302.6,223.7 L1319.3,214.2" />
<path d="M1334.8,212.4 L1341.3,214.8 L1341.3,225.5 L1334.2,229.9" />
<path d="M1334.8,212.4 L1324.6,218.4 L1324.6,222.5 L1313.9,229.9" />
<path d="M1206.6,113.8 L1208.1,113.0 L1209.7,109.1 L1216.1,107.6 L1220.6,107.6 L1221.9,108.5" />
<path d="M1211.73,111.29 q0,2.91 2.42,2.91 q2.42,0 2.42,-2.91" />
<path d="M1161.0,254.2 L1183.1,240.8" />
<path d="M1159.77,158.84 q0,2.91 2.42,2.91 q2.42,0 2.42,-2.91" />
<path d="M1243.6,194.5 L1296.2,162.2" />
<path d="M1256.2,179.7 L1256.2,185.3" />
<path d="M1179.4,254.2 L1183.1,252.0" />
<path d="M1032.9,213.5 L1039.1,210.7 L1048.6,205.5 L1046.4,202.4 L1048.9,198.3 L1051.4,197.4 L1062.5,197.4 L1066.0,199.2 L1070.8,199.2 L1075.7,195.4 L1078.8,191.3 L1084.2,186.9 L1093.0,180.6 L1099.8,176.3 L1100.1,170.3 L1103.7,168.3 L1106.8,167.1 L1122.4,167.1 L1127.1,162.3 L1131.9,156.8 L1141.5,150.4 L1157.7,142.6 L1159.4,139.0 L1161.7,138.2 L1163.7,138.2 L1176.0,137.2 L1185.1,128.0 L1193.9,121.0 L1206.6,113.8 L1208.1,113.0 L1209.7,109.1 L1216.1,107.6 L1220.6,107.6 L1221.9,108.5 L1227.1,109.3 L1229.3,108.1 L1241.8,95.6 L1255.0,89.0 L1261.7,88.3 L1270.2,88.1 L1284.6,94.9 L1296.0,104.4 L1305.2,105.3 L1308.4,108.9 L1314.7,114.9 L1315.5,123.6 L1317.9,124.8 L1334.2,132.8 L1337.8,136.4 L1339.0,143.5 L1335.4,147.1 L1334.9,160.8 L1337.9,160.8 L1339.1,162.8 L1338.5,166.4 L1334.9,170.0 L1334.9,177.7 L1338.5,181.2 L1338.2,185.4 L1334.9,186.4 L1334.9,212.1 L1340.7,214.5 L1340.7,226.0 L1137.8,353.2 L1099.3,331.7 L1054.7,305.4 L1053.1,301.0 L1050.7,299.8 L1047.6,301.8 L1041.2,298.3 L1036.4,293.9 L1032.8,288.7 L1033.2,254.2 L1032.9,239.1 L1040.3,234.1 L1032.9,229.5 Z" stroke-width="2.2"/>
<path d="M1068.9,205.2 L1078.2,205.2 L1084.6,203.8 L1091.0,205.6 L1094.6,207.7 L1098.9,213.5 L1101.8,218.5 L1103.2,222.1 L1108.0,230.6 L1101.0,233.6 L1087.0,234.1 L1075.0,229.6 L1068.0,215.6 Z" fill="#fff" stroke="none"/>
<path d="M1068.9,205.2 L1078.2,205.2 L1084.6,203.8 L1091.0,205.6 L1094.6,207.7 L1098.9,213.5 L1101.8,218.5 L1103.2,222.1" />
<path d="M1074.9,209.2 L1082.5,208.5 L1088.2,210.6 L1091.8,214.9 L1094.6,219.2 L1096.1,223.5 L1096.4,228.2" />
<path d="M1075.7,217.4 L1078.2,213.5 L1082.5,212.4 L1087.5,215.6 L1091.1,220.6 L1092.8,224.9 L1093.2,228.5" />
<path d="M1075.7,217.4 L1075.3,222.1 L1078.2,227.1 L1082.5,231.4 L1086.8,232.8 L1091.1,231.7 L1093.2,228.5" />
<path d="M1081.7,215.6 L1084.6,220.6 L1086.8,224.2 L1091.8,226.7" />
<path d="M1093.2,228.2 L1101.1,230.3" />
<path d="M1069.0,209.6 V206.6 Q1071.3,204.8 1073.6,206.6 V209.6 H1074.6 V214.8 Q1071.3,216.2 1068.0,214.8 V209.6 Z" fill="#000" stroke="#000" stroke-width="1"/><path d="M1071.3,207.3 v0.8 M1070.5,211.8 h1.6 M1071.3,213.9 v0.5" stroke="#fff" stroke-width="1"/>
<path d="M1103.5,225.4 V222.4 Q1105.8,220.6 1108.1,222.4 V225.4 H1109.1 V230.6 Q1105.8,232.0 1102.5,230.6 V225.4 Z" fill="#000" stroke="#000" stroke-width="1"/><path d="M1105.8,223.1 v0.8 M1105.0,227.6 h1.6 M1105.8,229.7 v0.5" stroke="#fff" stroke-width="1"/>
<path d="M1113.1,175.1 L1122.4,175.1 L1128.8,173.7 L1135.2,175.5 L1138.8,177.6 L1143.1,183.4 L1146.0,188.4 L1147.4,192.0 L1152.2,200.5 L1145.2,203.5 L1131.2,204.0 L1119.2,199.5 L1112.2,185.5 Z" fill="#fff" stroke="none"/>
<path d="M1113.1,175.1 L1122.4,175.1 L1128.8,173.7 L1135.2,175.5 L1138.8,177.6 L1143.1,183.4 L1146.0,188.4 L1147.4,192.0" />
<path d="M1119.1,179.1 L1126.7,178.4 L1132.4,180.5 L1136.0,184.8 L1138.8,189.1 L1140.3,193.4 L1140.6,198.1" />
<path d="M1119.9,187.3 L1122.4,183.4 L1126.7,182.3 L1131.7,185.5 L1135.3,190.5 L1137.0,194.8 L1137.4,198.4" />
<path d="M1119.9,187.3 L1119.5,192.0 L1122.4,197.0 L1126.7,201.3 L1131.0,202.7 L1135.3,201.6 L1137.4,198.4" />
<path d="M1125.9,185.5 L1128.8,190.5 L1131.0,194.1 L1136.0,196.6" />
<path d="M1137.4,198.1 L1145.3,200.2" />
<path d="M1113.2,179.5 V176.5 Q1115.5,174.7 1117.8,176.5 V179.5 H1118.8 V184.7 Q1115.5,186.1 1112.2,184.7 V179.5 Z" fill="#000" stroke="#000" stroke-width="1"/><path d="M1115.5,177.2 v0.8 M1114.7,181.7 h1.6 M1115.5,183.8 v0.5" stroke="#fff" stroke-width="1"/>
<path d="M1147.7,195.3 V192.3 Q1150.0,190.5 1152.3,192.3 V195.3 H1153.3 V200.5 Q1150.0,201.9 1146.7,200.5 V195.3 Z" fill="#000" stroke="#000" stroke-width="1"/><path d="M1150.0,193.0 v0.8 M1149.2,197.5 h1.6 M1150.0,199.6 v0.5" stroke="#fff" stroke-width="1"/>
<path d="M1156.9,149.4 L1166.2,149.4 L1172.6,148.0 L1179.0,149.8 L1182.6,151.9 L1186.9,157.7 L1189.8,162.7 L1191.2,166.3 L1196.0,174.8 L1189.0,177.8 L1175.0,178.3 L1163.0,173.8 L1156.0,159.8 Z" fill="#fff" stroke="none"/>
<path d="M1156.9,149.4 L1166.2,149.4 L1172.6,148.0 L1179.0,149.8 L1182.6,151.9 L1186.9,157.7 L1189.8,162.7 L1191.2,166.3" />
<path d="M1162.9,153.4 L1170.5,152.7 L1176.2,154.8 L1179.8,159.1 L1182.6,163.4 L1184.1,167.7 L1184.4,172.4" />
<path d="M1163.7,161.6 L1166.2,157.7 L1170.5,156.6 L1175.5,159.8 L1179.1,164.8 L1180.8,169.1 L1181.2,172.7" />
<path d="M1163.7,161.6 L1163.3,166.3 L1166.2,171.3 L1170.5,175.6 L1174.8,177.0 L1179.1,175.9 L1181.2,172.7" />
<path d="M1169.7,159.8 L1172.6,164.8 L1174.8,168.4 L1179.8,170.9" />
<path d="M1181.2,172.4 L1189.1,174.5" />
<path d="M1157.0,153.8 V150.8 Q1159.3,149.0 1161.6,150.8 V153.8 H1162.6 V159.0 Q1159.3,160.4 1156.0,159.0 V153.8 Z" fill="#000" stroke="#000" stroke-width="1"/><path d="M1159.3,151.5 v0.8 M1158.5,156.0 h1.6 M1159.3,158.1 v0.5" stroke="#fff" stroke-width="1"/>
<path d="M1191.5,169.6 V166.6 Q1193.8,164.8 1196.1,166.6 V169.6 H1197.1 V174.8 Q1193.8,176.2 1190.5,174.8 V169.6 Z" fill="#000" stroke="#000" stroke-width="1"/><path d="M1193.8,167.3 v0.8 M1193.0,171.8 h1.6 M1193.8,173.9 v0.5" stroke="#fff" stroke-width="1"/>
<path d="M1197.3,123.8 L1206.6,123.8 L1213.0,122.4 L1219.4,124.2 L1223.0,126.3 L1227.3,132.1 L1230.2,137.1 L1231.6,140.7 L1236.4,149.2 L1229.4,152.2 L1215.4,152.7 L1203.4,148.2 L1196.4,134.2 Z" fill="#fff" stroke="none"/>
<path d="M1197.3,123.8 L1206.6,123.8 L1213.0,122.4 L1219.4,124.2 L1223.0,126.3 L1227.3,132.1 L1230.2,137.1 L1231.6,140.7" />
<path d="M1203.3,127.8 L1210.9,127.1 L1216.6,129.2 L1220.2,133.5 L1223.0,137.8 L1224.5,142.1 L1224.8,146.8" />
<path d="M1204.1,136.0 L1206.6,132.1 L1210.9,131.0 L1215.9,134.2 L1219.5,139.2 L1221.2,143.5 L1221.6,147.1" />
<path d="M1204.1,136.0 L1203.7,140.7 L1206.6,145.7 L1210.9,150.0 L1215.2,151.4 L1219.5,150.3 L1221.6,147.1" />
<path d="M1210.1,134.2 L1213.0,139.2 L1215.2,142.8 L1220.2,145.3" />
<path d="M1221.6,146.8 L1229.5,148.9" />
<path d="M1197.4,128.2 V125.2 Q1199.7,123.4 1202.0,125.2 V128.2 H1203.0 V133.4 Q1199.7,134.8 1196.4,133.4 V128.2 Z" fill="#000" stroke="#000" stroke-width="1"/><path d="M1199.7,125.9 v0.8 M1198.9,130.4 h1.6 M1199.7,132.5 v0.5" stroke="#fff" stroke-width="1"/>
<path d="M1231.9,144.0 V141.0 Q1234.2,139.2 1236.5,141.0 V144.0 H1237.5 V149.2 Q1234.2,150.6 1230.9,149.2 V144.0 Z" fill="#000" stroke="#000" stroke-width="1"/><path d="M1234.2,141.7 v0.8 M1233.4,146.2 h1.6 M1234.2,148.3 v0.5" stroke="#fff" stroke-width="1"/>
<path d="M1242.4,98.8 L1251.7,98.8 L1258.1,97.4 L1264.5,99.2 L1268.1,101.3 L1272.4,107.1 L1275.3,112.1 L1276.7,115.7 L1281.5,124.2 L1274.5,127.2 L1260.5,127.7 L1248.5,123.2 L1241.5,109.2 Z" fill="#fff" stroke="none"/>
<path d="M1242.4,98.8 L1251.7,98.8 L1258.1,97.4 L1264.5,99.2 L1268.1,101.3 L1272.4,107.1 L1275.3,112.1 L1276.7,115.7" />
<path d="M1248.4,102.8 L1256.0,102.1 L1261.7,104.2 L1265.3,108.5 L1268.1,112.8 L1269.6,117.1 L1269.9,121.8" />
<path d="M1249.2,111.0 L1251.7,107.1 L1256.0,106.0 L1261.0,109.2 L1264.6,114.2 L1266.3,118.5 L1266.7,122.1" />
<path d="M1249.2,111.0 L1248.8,115.7 L1251.7,120.7 L1256.0,125.0 L1260.3,126.4 L1264.6,125.3 L1266.7,122.1" />
<path d="M1255.2,109.2 L1258.1,114.2 L1260.3,117.8 L1265.3,120.3" />
<path d="M1266.7,121.8 L1274.6,123.9" />
<path d="M1242.5,103.2 V100.2 Q1244.8,98.4 1247.1,100.2 V103.2 H1248.1 V108.4 Q1244.8,109.8 1241.5,108.4 V103.2 Z" fill="#000" stroke="#000" stroke-width="1"/><path d="M1244.8,100.9 v0.8 M1244.0,105.4 h1.6 M1244.8,107.5 v0.5" stroke="#fff" stroke-width="1"/>
<path d="M1277.0,119.0 V116.0 Q1279.3,114.2 1281.6,116.0 V119.0 H1282.6 V124.2 Q1279.3,125.6 1276.0,124.2 V119.0 Z" fill="#000" stroke="#000" stroke-width="1"/><path d="M1279.3,116.7 v0.8 M1278.5,121.2 h1.6 M1279.3,123.3 v0.5" stroke="#fff" stroke-width="1"/>
<path d="M791.4,76.1 L794.8,76.1 L795.2,77.4 L796.8,77.4 L796.8,87.5 L795.0,90.3 L793.6,94.0 L790.5,95.0 L790.2,95.9 L785.6,95.9 L785.2,95.0 L785.2,86.1 L786.4,83.3 L787.5,81.2 L789.2,78.6 L790.8,76.8 Z" stroke-width="2.6"/>
<path d="M789.5,80.0 L791.5,78.5 L795.5,78.3" stroke-width="1.5"/>
<path d="M788.9,84.0 L795.9,84.7" />
<path d="M787.2,91.3 L790.7,91.7" />
<path d="M787.0,84.5 L786.3,89.0" stroke-width="1.5"/>
<path d="M835.2,167.7 L835.5,168.4 L835.5,169.1 L835.4,169.9 L835.1,170.7 L834.7,171.5 L834.1,172.3 L833.4,173.2 L832.6,174.0 L831.6,174.8 L830.6,175.5 L829.4,176.2 L828.2,176.8 L827.0,177.3 L825.8,177.8 L824.5,178.1 L823.3,178.3 L822.1,178.4 L821.0,178.4 L820.0,178.3 L819.1,178.1 L818.3,177.8 L817.7,177.4 L817.1,176.9 L816.8,176.3 L816.5,175.6 L816.5,174.9 L816.6,174.1 L816.9,173.3 L817.3,172.5 L817.9,171.7 L818.6,170.8 L819.4,170.0 L820.4,169.2 L821.4,168.5 L822.6,167.8 L823.8,167.2 L825.0,166.7 L826.2,166.2 L827.5,165.9 L828.7,165.7 L829.9,165.6 L831.0,165.6 L832.0,165.7 L832.9,165.9 L833.7,166.2 L834.3,166.6 L834.9,167.1 Z" stroke-width="2.8"/>
<path d="M823.2,170.3 L826.6,174.8" stroke-dasharray="1.5 1"/>
<path d="M829.5,167.2 L832.4,171.8" stroke-dasharray="1.5 1"/>
<path d="M819.2,175.0 L819.8,177.5" />
<path d="M818.0,176.5 L822.0,174.5 L830.0,170.5" stroke-width="1"/>
<path d="M527.8,169.6 L527.7,171.1 L527.5,172.1 L527.2,173.0 L526.7,173.7 L526.1,174.3 L525.4,174.9 L524.5,175.3 L523.5,175.6 L522.3,175.7 L520.5,175.8 L518.7,175.7 L517.5,175.6 L516.5,175.3 L515.6,174.9 L514.9,174.3 L514.3,173.7 L513.8,173.0 L513.5,172.1 L513.3,171.1 L513.2,169.6 L513.3,168.1 L513.5,167.1 L513.8,166.2 L514.3,165.5 L514.9,164.9 L515.6,164.3 L516.5,163.9 L517.5,163.6 L518.7,163.5 L520.5,163.4 L522.3,163.5 L523.5,163.6 L524.5,163.9 L525.4,164.3 L526.1,164.9 L526.7,165.5 L527.2,166.2 L527.5,167.1 L527.7,168.1 Z" fill="#000" stroke-width="1"/>
<path d="M517.0,171.0 L518.5,167.5 L521.0,166.5 L524.0,167.5" stroke="#fff"/>
<path d="M519.0,172.5 L524.0,172.5" stroke="#fff" stroke-width="1.5"/>
<rect x="516" y="193" width="9" height="28" fill="#000" stroke="none"/>
<rect x="518.5" y="196" width="3.5" height="22" fill="#fff" stroke="none"/>
<path d="M518.0,199.5 L522.0,199.5" stroke-width="1.5"/>
<path d="M518.0,203.0 L522.0,203.0" />
<path d="M518.0,214.0 L522.0,214.0" stroke-width="1.5"/>
<path d="M520.0,197.0 L521.0,198.0" />
<path d="M528.5,234.6 L528.4,235.8 L528.2,236.8 L527.8,237.7 L527.2,238.4 L526.5,239.1 L525.7,239.7 L524.7,240.1 L523.6,240.4 L522.4,240.6 L520.9,240.7 L519.4,240.6 L518.2,240.4 L517.1,240.1 L516.1,239.7 L515.3,239.1 L514.6,238.4 L514.0,237.7 L513.6,236.8 L513.4,235.8 L513.3,234.6 L513.4,233.4 L513.6,232.4 L514.0,231.5 L514.6,230.8 L515.3,230.1 L516.1,229.5 L517.1,229.1 L518.2,228.8 L519.4,228.6 L520.9,228.5 L522.4,228.6 L523.6,228.8 L524.7,229.1 L525.7,229.5 L526.5,230.1 L527.2,230.8 L527.8,231.5 L528.2,232.4 L528.4,233.4 Z" fill="#000" stroke-width="1"/>
<ellipse cx="521" cy="235" rx="5" ry="2.3" stroke="#fff" stroke-width="1"/>
<path d="M360.1,236.9 L360.0,238.2 L359.8,239.1 L359.4,239.9 L358.9,240.6 L358.2,241.1 L357.4,241.5 L356.5,241.8 L355.4,242.0 L353.8,242.1 L352.2,242.0 L351.1,241.8 L350.2,241.5 L349.4,241.1 L348.7,240.6 L348.2,239.9 L347.8,239.1 L347.6,238.2 L347.5,236.9 L347.6,235.6 L347.8,234.7 L348.2,233.9 L348.7,233.2 L349.4,232.7 L350.2,232.3 L351.1,232.0 L352.2,231.8 L353.8,231.7 L355.4,231.8 L356.5,232.0 L357.4,232.3 L358.2,232.7 L358.9,233.2 L359.4,233.9 L359.8,234.7 L360.0,235.6 Z" fill="#fff" stroke-width="2"/>
<path d="M349.0,238.0 L353.8,240.0 L359.0,238.0" />
<path d="M350.9,242.5 L350.9,285.4 L356.0,285.4 L356.0,242.5" stroke-width="2"/>
<path d="M351.0,263.9 L356.0,263.9" />
<path d="M351.0,269.8 L356.0,269.8" />
<path d="M351.0,275.7 L356.0,275.7" />
<path d="M351.0,280.5 L356.0,280.5" />
<path d="M405.3,226.0 L405.2,227.3 L405.0,228.2 L404.6,229.0 L404.1,229.7 L403.4,230.2 L402.6,230.6 L401.7,230.9 L400.6,231.1 L399.0,231.2 L397.4,231.1 L396.3,230.9 L395.4,230.6 L394.6,230.2 L393.9,229.7 L393.4,229.0 L393.0,228.2 L392.8,227.3 L392.7,226.0 L392.8,224.7 L393.0,223.8 L393.4,223.0 L393.9,222.3 L394.6,221.8 L395.4,221.4 L396.3,221.1 L397.4,220.9 L399.0,220.8 L400.6,220.9 L401.7,221.1 L402.6,221.4 L403.4,221.8 L404.1,222.3 L404.6,223.0 L405.0,223.8 L405.2,224.7 Z" fill="#fff" stroke-width="2"/>
<path d="M394.5,227.5 L399.0,229.5 L404.0,227.5" />
<path d="M396.0,231.5 L396.0,314.4 L401.1,314.4 L401.1,231.5" stroke-width="2"/>
<path d="M396.0,286.5 L401.0,286.5" />
<path d="M396.0,290.8 L401.0,290.8" />
<path d="M396.0,296.7 L401.0,296.7" />
<path d="M396.0,302.6 L401.0,302.6" />
<path d="M396.0,308.5 L401.0,308.5" />
<path d="M445.4,266.3 L454.3,258.9 L458.7,258.9 L470.6,264.8 L474.3,273.7 L472.8,280.4 L466.2,284.1 L457.3,284.9 L451.3,283.4 L445.4,278.2 L444.6,270.8 Z" stroke-width="2"/>
<path d="M457.3,276.7 L461.0,269.3 L466.9,267.1 L472.1,269.3 L474.3,274.5 L471.4,279.7 L465.4,283.4 L458.7,283.4 Z" />
<path d="M459.0,281.0 L462.4,276.0 L465.4,271.5 L470.6,270.8" />
<path d="M441.0,378.5 L443.8,384.0 L471.5,368.5 L474.2,366.8 L472.6,363.2 L469.5,364.0 Z" fill="#000" stroke-width="2.2"/>
<path d="M445.0,378.5 L447.2,377.3" stroke="#fff" stroke-width="1.2"/>
<path d="M450.0,375.8 L452.2,374.6" stroke="#fff" stroke-width="1.2"/>
<path d="M455.0,373.1 L457.2,371.9" stroke="#fff" stroke-width="1.2"/>
<path d="M460.0,370.4 L462.2,369.2" stroke="#fff" stroke-width="1.2"/>
<path d="M465.0,367.7 L467.2,366.5" stroke="#fff" stroke-width="1.2"/>
<path d="M470.0,365.0 L472.2,363.8" stroke="#fff" stroke-width="1.2"/>
<path d="M260.0,465.6 L266.5,463.3 L274.7,466.8 L281.8,473.9 L287.7,485.7 L288.3,496.3 L285.3,502.1 L278.3,503.9 L272.4,501.0 L264.1,492.7 L258.2,482.1 L257.1,472.7 Z" />
<path d="M267.7,460.9 L277.1,458.0 L285.3,460.3 L293.6,466.8 L299.5,476.2 L303.0,488.0 L301.8,496.3 L297.1,499.8 L285.3,502.1" />
<path d="M266.5,463.3 L268.8,458.6 L274.7,453.9 L283.0,450.3 L291.2,451.5 L299.5,458.6 L306.5,468.0 L311.2,479.8 L311.2,491.6 L307.7,498.6 L299.5,501.6 L291.2,501.6" />
<ellipse cx="263.5" cy="471.5" rx="2" ry="2.5" transform="rotate(-20 263.5 471.5)" />
<ellipse cx="273.0" cy="469.8" rx="2" ry="2.6" transform="rotate(-20 273.0 469.8)" />
<ellipse cx="281.8" cy="480.4" rx="2" ry="2.6" transform="rotate(-20 281.8 480.4)" />
<ellipse cx="273.0" cy="498.6" rx="2" ry="2.6" transform="rotate(-20 273.0 498.6)" />
<ellipse cx="273.0" cy="483.9" rx="5" ry="7" transform="rotate(-25 273.0 483.9)" />
<ellipse cx="273.0" cy="483.9" rx="2.5" ry="5" transform="rotate(-25 273.0 483.9)" />
<path d="M268.5,459.6 L278.6,453.2 L288.2,457.1 L297.7,465.9 L303.4,477.4 L305.3,489.4 L302.8,497.0 L296.4,500.8" />
<path d="M298.3,455.6 L306.5,452.7" />
<path d="M311.8,479.2 L319.5,473.9" />
<path d="M354.9,410.6 L359.0,408.6 L372.1,402.0 L377.8,403.3 L382.7,407.4 L388.5,413.9 L391.7,419.7 L394.2,427.8 L394.6,434.4 L390.9,438.9 L378.6,444.6 L375.3,447.1 L368.8,447.1 L365.5,443.8" />
<path d="M354.9,410.6 L354.5,416.4 L354.9,423.8 L356.5,426.2" />
<path d="M359.0,408.6 L363.9,409.8 L369.6,414.7 L375.3,422.1 L378.6,431.1 L379.4,437.7 L378.6,444.2" />
<path d="M357.3,424.6 L362.2,421.7 L367.2,423.3 L371.3,429.5 L374.1,435.2 L374.1,440.1 L372.1,442.6 L366.3,443.8" />
<path d="M358.6,423.8 L363.1,422.5 L367.6,424.6 L371.7,430.7 L373.3,436.0 L372.9,441.0" />
<path d="M350.0,429.1 L356.5,426.2" />
<path d="M323.8,442.2 L327.0,435.2 L341.8,428.3 L349.1,428.3 L353.2,430.3" />
<path d="M353.2,430.3 L358.1,435.2 L364.7,441.8 L368.0,446.7 L369.6,453.2 L369.2,458.1 L354.9,465.5 L353.2,467.2 L342.6,467.2 L336.9,464.7" />
<path d="M327.0,435.2 L332.8,435.6 L339.3,437.3 L345.9,444.2 L351.6,450.8 L354.9,457.3 L355.7,463.9 L354.1,466.3" />
<path d="M323.8,442.2 L330.3,440.5 L335.2,442.6 L340.1,448.3 L342.6,455.7 L341.0,459.8 L337.7,462.2" stroke-width="1.6"/>
<path d="M327.8,443.4 L332.8,442.6 L336.9,445.9 L341.0,452.4 L342.2,457.3" />
<path d="M306.6,452.4 L308.2,448.3 L312.3,446.7 L319.7,442.6 L323.8,442.2" />
<path d="M306.6,452.4 L313.1,451.6 L318.8,454.1 L324.6,461.4 L327.0,469.6 L326.2,472.1 L319.7,472.1" />
<path d="M312.3,446.7 L318.0,449.1 L322.9,454.1 L326.2,462.2 L327.0,470.4" />
<path d="M327.8,470.4 L335.2,467.2 L336.9,464.7" />
<path d="M300.0,454.1 L306.6,453.2" />
<path d="M300.0,459.0 L304.9,462.2 L309.0,470.4 L311.5,479.4" />
<path d="M311.5,479.4 L318.8,473.7 L326.2,472.1" />
<path d="M316.4,458.1 L318.8,459.0 L318.0,460.6" />
<ellipse cx="374.2" cy="482.1" rx="17.5" ry="8.5" transform="rotate(0 374.2 482.1)" />
<path d="M391.7,485.1 L391.4,486.8 L390.4,488.4 L388.8,489.9 L386.6,491.1 L383.9,492.2 L380.9,493.0 L377.6,493.5 L374.2,493.6 L370.8,493.5 L367.5,493.0 L364.5,492.2 L361.8,491.1 L359.7,489.9 L358.1,488.4 L357.1,486.8 L356.7,485.1" />
<path d="M355.0,512.0 L362.3,508.0 L374.9,506.0 L387.6,507.3 L394.2,512.6 L396.2,518.6 L396.2,545.2 L392.9,551.9 L384.9,555.9 L374.9,557.9 L363.6,556.5 L355.6,551.9 L352.3,545.2 L352.3,517.3 Z" stroke-width="2.2"/>
<ellipse cx="375.0" cy="519.5" rx="16.5" ry="9.5" transform="rotate(0 375.0 519.5)" />
<path d="M361.0,525.3 L368.9,519.7 L379.6,518.9 L387.6,522.0 L390.9,525.3" />
<path d="M359.6,526.6 L374.9,531.7 L384.9,527.9" />
<path d="M384.2,527.3 L384.2,539.2 L389.6,536.6 L389.6,527.3" />
<path d="M369.0,569.2 L371.6,565.2 L379.6,564.5 L382.2,567.8 L382.2,581.2 L379.6,584.5 L372.9,584.5 L369.0,580.5 Z" stroke-width="2"/>
<path d="M371.6,569.2 L375.6,566.5 L380.3,569.2 L375.6,572.5 L371.6,569.2" />
<path d="M370.3,574.5 L375.6,575.8 L381.6,573.8" />
<path d="M371.6,579.8 L376.9,581.8 L380.9,579.8" />
<path d="M357.0,601.1 L362.3,594.5 L374.9,591.8 L387.6,594.5 L392.2,601.1 L391.6,609.1 L384.9,614.4 L374.9,615.7 L365.0,614.4 L357.6,609.1 Z" stroke-width="2.2"/>
<ellipse cx="374.9" cy="601.1" rx="10.6" ry="4.7" transform="rotate(0 374.9 601.1)" />
<ellipse cx="374.9" cy="600.6" rx="4.7" ry="2.4" transform="rotate(0 374.9 600.6)" />
<path d="M357.6,605.1 L374.9,610.4 L391.6,605.1" />
<path d="M367.6,615.7 L367.6,622.4 L371.6,624.4 L378.3,624.4 L382.2,622.4 L382.2,615.7" stroke-width="2"/>
<path d="M365.8,631.5 L370.1,628.6 L381.5,628.6 L385.8,632.9 L385.8,657.2 L381.5,660.1 L370.1,660.1 L365.8,655.8 Z" stroke-width="2.2"/>
<path d="M372.0,630.5 L380.0,630.5" />
<path d="M384.3,632.6 L384.1,632.9 L383.7,633.3 L382.9,633.6 L381.9,634.0 L380.6,634.3 L379.2,634.6 L377.6,634.9 L376.0,635.1 L374.3,635.2 L372.7,635.3 L371.2,635.3 L369.9,635.3 L368.9,635.1 L368.1,634.9 L367.5,634.7 L367.3,634.4" />
<path d="M384.3,635.4 L384.1,635.7 L383.7,636.0 L382.9,636.4 L381.9,636.7 L380.6,637.1 L379.2,637.4 L377.6,637.6 L376.0,637.8 L374.3,638.0 L372.7,638.1 L371.2,638.1 L369.9,638.0 L368.9,637.9 L368.1,637.7 L367.5,637.4 L367.3,637.1" />
<path d="M384.3,638.1 L384.1,638.4 L383.7,638.8 L382.9,639.1 L381.9,639.5 L380.6,639.8 L379.2,640.1 L377.6,640.4 L376.0,640.6 L374.3,640.7 L372.7,640.8 L371.2,640.8 L369.9,640.8 L368.9,640.6 L368.1,640.4 L367.5,640.2 L367.3,639.9" />
<path d="M384.3,640.9 L384.1,641.2 L383.7,641.5 L382.9,641.9 L381.9,642.2 L380.6,642.6 L379.2,642.9 L377.6,643.1 L376.0,643.3 L374.3,643.5 L372.7,643.6 L371.2,643.6 L369.9,643.5 L368.9,643.4 L368.1,643.2 L367.5,642.9 L367.3,642.6" />
<path d="M384.3,643.6 L384.1,643.9 L383.7,644.3 L382.9,644.6 L381.9,645.0 L380.6,645.3 L379.2,645.6 L377.6,645.9 L376.0,646.1 L374.3,646.2 L372.7,646.3 L371.2,646.3 L369.9,646.3 L368.9,646.1 L368.1,645.9 L367.5,645.7 L367.3,645.4" />
<path d="M384.3,646.4 L384.1,646.7 L383.7,647.0 L382.9,647.4 L381.9,647.7 L380.6,648.1 L379.2,648.4 L377.6,648.6 L376.0,648.8 L374.3,649.0 L372.7,649.1 L371.2,649.1 L369.9,649.0 L368.9,648.9 L368.1,648.7 L367.5,648.4 L367.3,648.1" />
<path d="M384.3,649.1 L384.1,649.4 L383.7,649.8 L382.9,650.1 L381.9,650.5 L380.6,650.8 L379.2,651.1 L377.6,651.4 L376.0,651.6 L374.3,651.7 L372.7,651.8 L371.2,651.8 L369.9,651.8 L368.9,651.6 L368.1,651.4 L367.5,651.2 L367.3,650.9" />
<path d="M384.3,651.9 L384.1,652.2 L383.7,652.5 L382.9,652.9 L381.9,653.2 L380.6,653.6 L379.2,653.9 L377.6,654.1 L376.0,654.3 L374.3,654.5 L372.7,654.6 L371.2,654.6 L369.9,654.5 L368.9,654.4 L368.1,654.2 L367.5,653.9 L367.3,653.6" />
<path d="M384.3,654.6 L384.1,654.9 L383.7,655.3 L382.9,655.6 L381.9,656.0 L380.6,656.3 L379.2,656.6 L377.6,656.9 L376.0,657.1 L374.3,657.2 L372.7,657.3 L371.2,657.3 L369.9,657.3 L368.9,657.1 L368.1,656.9 L367.5,656.7 L367.3,656.4" />
<path d="M375.5,633.0 L375.5,659.0" stroke-dasharray="2 3"/>
<path d="M360.0,671.6 L365.8,667.3 L375.8,665.8 L387.2,668.7 L392.3,673.0 L392.3,713.1 L387.2,717.4 L375.8,719.6 L365.8,718.9 L360.0,713.1 L359.3,677.3 Z" stroke-width="2.2"/>
<path d="M375.5,666.0 L375.5,662.5" stroke-width="1.5"/>
<path d="M388.0,675.0 L387.6,676.2 L386.4,677.2 L384.5,678.2 L382.0,678.9 L379.1,679.3 L376.0,679.5 L372.9,679.3 L370.0,678.9 L367.5,678.2 L365.6,677.2 L364.4,676.2 L364.0,675.0 L364.4,673.8 L365.6,672.8 L367.5,671.8 L370.0,671.1 L372.9,670.7 L376.0,670.5 L379.1,670.7 L382.0,671.1 L384.5,671.8 L386.4,672.8 L387.6,673.8 L388.0,675.0" />
<path d="M384.0,675.5 L383.7,676.1 L382.9,676.8 L381.7,677.3 L380.0,677.7 L378.1,677.9 L376.0,678.0 L373.9,677.9 L372.0,677.7 L370.3,677.3 L369.1,676.8 L368.3,676.1 L368.0,675.5 L368.3,674.9 L369.1,674.2 L370.3,673.7 L372.0,673.3 L373.9,673.1 L376.0,673.0 L378.1,673.1 L380.0,673.3 L381.7,673.7 L382.9,674.2 L383.7,674.9 L384.0,675.5" />
<path d="M390.3,679.7 L389.7,680.4 L388.7,681.1 L387.3,681.8 L385.5,682.4 L383.5,682.9 L381.2,683.4 L378.8,683.8 L376.3,684.0 L373.8,684.1 L371.3,684.1 L369.0,684.0 L366.9,683.7 L365.1,683.3 L363.6,682.9 L362.5,682.3 L361.8,681.7" />
<path d="M389.6,681.6 L388.8,682.2 L387.8,682.8 L386.4,683.3 L384.7,683.9 L382.8,684.3 L380.7,684.7 L378.5,685.0 L376.3,685.2 L374.0,685.3 L371.7,685.3 L369.6,685.2 L367.7,685.0 L366.0,684.8 L364.5,684.4 L363.4,684.0 L362.6,683.5" />
<path d="M390.3,684.9 L389.7,685.6 L388.7,686.3 L387.3,687.0 L385.5,687.6 L383.5,688.1 L381.2,688.6 L378.8,689.0 L376.3,689.2 L373.8,689.3 L371.3,689.3 L369.0,689.2 L366.9,688.9 L365.1,688.5 L363.6,688.1 L362.5,687.5 L361.8,686.9" />
<path d="M389.6,686.8 L388.8,687.4 L387.8,688.0 L386.4,688.5 L384.7,689.1 L382.8,689.5 L380.7,689.9 L378.5,690.2 L376.3,690.4 L374.0,690.5 L371.7,690.5 L369.6,690.4 L367.7,690.2 L366.0,690.0 L364.5,689.6 L363.4,689.2 L362.6,688.7" />
<path d="M390.3,690.1 L389.7,690.8 L388.7,691.5 L387.3,692.2 L385.5,692.8 L383.5,693.3 L381.2,693.8 L378.8,694.2 L376.3,694.4 L373.8,694.5 L371.3,694.5 L369.0,694.4 L366.9,694.1 L365.1,693.7 L363.6,693.3 L362.5,692.7 L361.8,692.1" />
<path d="M389.6,692.0 L388.8,692.6 L387.8,693.2 L386.4,693.7 L384.7,694.3 L382.8,694.7 L380.7,695.1 L378.5,695.4 L376.3,695.6 L374.0,695.7 L371.7,695.7 L369.6,695.6 L367.7,695.4 L366.0,695.2 L364.5,694.8 L363.4,694.4 L362.6,693.9" />
<path d="M390.3,695.3 L389.7,696.0 L388.7,696.7 L387.3,697.4 L385.5,698.0 L383.5,698.5 L381.2,699.0 L378.8,699.4 L376.3,699.6 L373.8,699.7 L371.3,699.7 L369.0,699.6 L366.9,699.3 L365.1,698.9 L363.6,698.5 L362.5,697.9 L361.8,697.3" />
<path d="M389.6,697.2 L388.8,697.8 L387.8,698.4 L386.4,698.9 L384.7,699.5 L382.8,699.9 L380.7,700.3 L378.5,700.6 L376.3,700.8 L374.0,700.9 L371.7,700.9 L369.6,700.8 L367.7,700.6 L366.0,700.4 L364.5,700.0 L363.4,699.6 L362.6,699.1" />
<path d="M390.3,700.5 L389.7,701.2 L388.7,701.9 L387.3,702.6 L385.5,703.2 L383.5,703.7 L381.2,704.2 L378.8,704.6 L376.3,704.8 L373.8,704.9 L371.3,704.9 L369.0,704.8 L366.9,704.5 L365.1,704.1 L363.6,703.7 L362.5,703.1 L361.8,702.5" />
<path d="M389.6,702.4 L388.8,703.0 L387.8,703.6 L386.4,704.1 L384.7,704.7 L382.8,705.1 L380.7,705.5 L378.5,705.8 L376.3,706.0 L374.0,706.1 L371.7,706.1 L369.6,706.0 L367.7,705.8 L366.0,705.6 L364.5,705.2 L363.4,704.8 L362.6,704.3" />
<path d="M390.3,705.7 L389.7,706.4 L388.7,707.1 L387.3,707.8 L385.5,708.4 L383.5,708.9 L381.2,709.4 L378.8,709.8 L376.3,710.0 L373.8,710.1 L371.3,710.1 L369.0,710.0 L366.9,709.7 L365.1,709.3 L363.6,708.9 L362.5,708.3 L361.8,707.7" />
<path d="M389.6,707.6 L388.8,708.2 L387.8,708.8 L386.4,709.3 L384.7,709.9 L382.8,710.3 L380.7,710.7 L378.5,711.0 L376.3,711.2 L374.0,711.3 L371.7,711.3 L369.6,711.2 L367.7,711.0 L366.0,710.8 L364.5,710.4 L363.4,710.0 L362.6,709.5" />
<path d="M390.3,710.9 L389.7,711.6 L388.7,712.3 L387.3,713.0 L385.5,713.6 L383.5,714.1 L381.2,714.6 L378.8,715.0 L376.3,715.2 L373.8,715.3 L371.3,715.3 L369.0,715.2 L366.9,714.9 L365.1,714.5 L363.6,714.1 L362.5,713.5 L361.8,712.9" />
<path d="M389.6,712.8 L388.8,713.4 L387.8,714.0 L386.4,714.5 L384.7,715.1 L382.8,715.5 L380.7,715.9 L378.5,716.2 L376.3,716.4 L374.0,716.5 L371.7,716.5 L369.6,716.4 L367.7,716.2 L366.0,716.0 L364.5,715.6 L363.4,715.2 L362.6,714.7" />
<path d="M361.5,734.6 L370.1,728.9 L378.7,727.4 L387.2,730.3 L392.3,737.5 L391.5,744.6 L383.0,749.7 L370.1,749.7 L362.2,744.6 L360.3,738.9 Z" stroke-width="2.2"/>
<ellipse cx="377.2" cy="731.7" rx="7" ry="3" transform="rotate(0 377.2 731.7)" />
<ellipse cx="377.0" cy="731.5" rx="2.5" ry="1.8" transform="rotate(0 377.0 731.5)" />
<path d="M370.2,731.7 L370.2,740.0" />
<path d="M384.2,731.7 L384.2,740.0" />
<path d="M384.2,740.0 L384.1,740.6 L383.7,741.1 L383.0,741.7 L382.1,742.1 L381.1,742.5 L379.9,742.8 L378.6,742.9 L377.2,743.0 L375.8,742.9 L374.5,742.8 L373.3,742.5 L372.3,742.1 L371.4,741.7 L370.7,741.1 L370.3,740.6 L370.2,740.0" />
<path d="M361.5,740.3 L368.6,744.6" />
<path d="M383.0,746.0 L390.0,743.0" />
<path d="M594.3,443.2 L602.1,439.7 L612.0,438.9 L621.0,439.7 L629.7,444.5 L633.1,450.9 L633.1,460.0 L627.1,466.0 L618.4,473.8 L602.9,474.2 L596.0,469.5 L590.9,462.6 L590.9,450.5 Z" stroke-width="2.2"/>
<ellipse cx="612.4" cy="451.8" rx="14.2" ry="7.8" transform="rotate(0 612.4 451.8)" />
<ellipse cx="612.4" cy="454.4" rx="13.6" ry="5.2" transform="rotate(0 612.4 454.4)" />
<path d="M591.3,454.8 L594.3,458.3 L601.2,461.7 L612.0,463.0 L622.8,461.3 L632.2,457.8" />
<path d="M595.2,466.0 L601.2,468.6 L612.0,470.3 L623.6,469.1" />
<path d="M523.6,481.6 L530.5,476.8 L543.0,475.5 L552.9,476.8 L561.6,483.3 L564.6,487.6 L564.1,498.8 L558.1,504.8 L552.1,508.3 L543.0,509.1 L532.2,508.3 L523.6,503.1 L520.2,497.1 L520.2,487.6 Z" stroke-width="2.2"/>
<ellipse cx="543.0" cy="488.0" rx="13.6" ry="8.2" transform="rotate(0 543.0 488.0)" />
<ellipse cx="543.0" cy="490.6" rx="12.5" ry="5" transform="rotate(0 543.0 490.6)" />
<path d="M521.5,490.2 L523.6,493.6 L532.2,497.9 L543.0,500.1 L553.8,497.9 L562.8,493.6" />
<path d="M524.5,501.4 L532.2,505.7 L543.0,507.4 L552.1,506.6" stroke-dasharray="3 2"/>
<path d="M537.4,528.3 L540.8,526.6 L546.9,526.6 L549.8,528.8 L552.0,541.8 L552.6,586.8 L549.2,590.2 L547.5,594.7 L539.6,594.7 L537.9,590.2 L534.6,586.8 L534.6,541.8 Z" stroke-width="2"/>
<ellipse cx="543.6" cy="531.0" rx="3.5" ry="1.8" transform="rotate(0 543.6 531.0)" />
<path d="M535.1,544.0 L543.6,547.4 L551.4,545.1" />
<path d="M537.9,590.2 L549.2,590.2" />
<path d="M605.5,496.8 L611.7,494.5 L617.3,496.8 L620.1,509.7 L620.7,557.5 L617.3,560.3 L616.2,563.7 L608.3,563.7 L607.2,560.3 L603.8,557.5 L603.2,509.7 Z" stroke-width="2"/>
<ellipse cx="611.7" cy="500.7" rx="3.5" ry="1.8" transform="rotate(0 611.7 500.7)" />
<path d="M603.8,514.2 L612.8,516.4 L619.5,513.6" />
<path d="M607.2,560.3 L617.3,560.3" />
<path d="M538.2,617.0 L541.4,615.4 L547.8,615.4 L550.1,617.0 L550.1,667.0 L547.2,669.4 L547.2,686.0 L550.1,688.4 L551.7,701.9 L558.1,706.6 L561.2,713.0 L560.4,720.9 L554.1,724.9 L535.1,724.9 L527.9,717.7 L527.1,709.8 L531.9,703.4 L537.4,700.3 L539.0,688.4 L541.0,686.0 L541.0,669.4 L538.2,667.0 Z" stroke-width="2"/>
<path d="M538.5,621.8 L550.0,621.8" />
<path d="M538.5,626.5 L550.0,626.5" />
<path d="M538.5,631.3 L550.0,631.3" />
<path d="M528.7,713.0 L543.8,717.7 L560.4,713.0" />
<path d="M529.5,716.9 L543.8,720.9 L559.6,716.9" />
<path d="M539.0,689.2 L550.1,689.2" />
<path d="M537.4,701.9 L536.7,705.0" />
<path d="M551.7,701.9 L552.5,705.0" />
<path d="M606.4,585.3 L612.8,582.1 L618.3,585.3 L618.3,594.8 L616.7,597.2 L618.3,598.8 L618.3,657.5 L619.9,665.4 L625.5,668.6 L630.2,678.1 L629.4,686.0 L621.5,692.3 L602.5,692.3 L596.1,686.0 L595.3,676.5 L599.3,670.1 L605.6,666.2 L607.2,657.5 L607.2,598.8 L608.8,597.2 L606.4,594.8 Z" stroke-width="2"/>
<ellipse cx="612.8" cy="589.3" rx="4" ry="2" transform="rotate(0 612.8 589.3)" />
<path d="M608.0,634.5 L612.8,636.1 L617.5,634.5" />
<path d="M608.0,657.5 L617.5,657.5" />
<path d="M597.7,678.1 L612.8,682.8 L629.4,678.1" />
<path d="M599.3,684.4 L612.8,687.6 L627.8,684.4" />
<path d="M608.8,597.2 L612.8,598.8 L616.7,597.2" />
<path d="M655.6,604.3 L661.1,600.4 L669.1,600.4 L673.0,604.3 L674.6,611.5 L674.6,621.0 L669.9,625.7 L658.0,625.7 L653.2,621.0 L652.4,611.5 Z" stroke-width="2.2"/>
<path d="M653.2,612.3 L663.5,616.2 L673.8,612.3" />
<ellipse cx="663.5" cy="605.9" rx="5.5" ry="2.5" transform="rotate(0 663.5 605.9)" />
<path d="M658.0,606.7 L663.5,609.1 L669.9,606.7" />
</g>
<g>
<text transform="translate(751.00,84.00) scale(1,1.047)">16</text><rect x="750.40" y="81.40" width="5.8" height="3.6" fill="#fff"/><rect x="758.30" y="81.40" width="4.6" height="3.6" fill="#fff"/>
<text transform="translate(806.00,150.00) scale(1,1.047)">23</text>
<text transform="translate(477.00,177.00) scale(1,1.047)">26</text>
<text transform="translate(477.00,208.00) scale(1,1.047)">22</text>
<text transform="translate(477.00,243.00) scale(1,1.047)">25</text>
<text transform="translate(342.00,315.00) scale(1,1.047)">21</text><rect x="353.63" y="312.40" width="5.8" height="3.6" fill="#fff"/><rect x="361.53" y="312.40" width="4.6" height="3.6" fill="#fff"/>
<text transform="translate(387.00,339.00) scale(1,1.047)">20</text>
<text transform="translate(443.00,310.00) scale(1,1.047)">19</text><rect x="442.40" y="307.40" width="5.8" height="3.6" fill="#fff"/><rect x="450.30" y="307.40" width="4.6" height="3.6" fill="#fff"/>
<text transform="translate(459.50,400.00) scale(1,1.047)">24</text>
<text transform="translate(556.00,455.00) scale(1,1.047)">12</text><rect x="555.40" y="452.40" width="5.8" height="3.6" fill="#fff"/><rect x="563.30" y="452.40" width="4.6" height="3.6" fill="#fff"/>
<text transform="translate(487.00,499.00) scale(1,1.047)">11</text><rect x="486.40" y="496.40" width="5.8" height="3.6" fill="#fff"/><rect x="494.30" y="496.40" width="4.6" height="3.6" fill="#fff"/><rect x="498.63" y="496.40" width="5.8" height="3.6" fill="#fff"/><rect x="506.53" y="496.40" width="4.6" height="3.6" fill="#fff"/>
<text transform="translate(640.00,499.00) scale(1,1.047)">1</text><rect x="639.40" y="496.40" width="5.8" height="3.6" fill="#fff"/><rect x="647.30" y="496.40" width="4.6" height="3.6" fill="#fff"/>
<text transform="translate(640.50,527.00) scale(1,1.047)">2</text>
<text transform="translate(640.50,557.00) scale(1,1.047)">3</text>
<text transform="translate(491.00,542.00) scale(1,1.047)">1</text><rect x="490.40" y="539.40" width="5.8" height="3.6" fill="#fff"/><rect x="498.30" y="539.40" width="4.6" height="3.6" fill="#fff"/>
<text transform="translate(492.50,571.00) scale(1,1.047)">2</text>
<text transform="translate(492.50,601.00) scale(1,1.047)">3</text>
<text transform="translate(316.00,538.00) scale(1,1.047)">13</text><rect x="315.40" y="535.40" width="5.8" height="3.6" fill="#fff"/><rect x="323.30" y="535.40" width="4.6" height="3.6" fill="#fff"/>
<text transform="translate(330.00,579.00) scale(1,1.047)">8</text>
<text transform="translate(328.00,614.00) scale(1,1.047)">6</text>
<text transform="translate(329.50,654.00) scale(1,1.047)">5</text>
<text transform="translate(329.00,698.00) scale(1,1.047)">4</text>
<text transform="translate(329.00,746.00) scale(1,1.047)">7</text>
<text transform="translate(511.50,658.00) scale(1,1.047)">9</text>
<text transform="translate(570.00,634.00) scale(1,1.047)">10</text><rect x="569.40" y="631.40" width="5.8" height="3.6" fill="#fff"/><rect x="577.30" y="631.40" width="4.6" height="3.6" fill="#fff"/>
<text transform="translate(649.50,649.00) scale(1,1.047)">14</text><rect x="648.90" y="646.40" width="5.8" height="3.6" fill="#fff"/><rect x="656.80" y="646.40" width="4.6" height="3.6" fill="#fff"/>
<text transform="translate(804.00,696.00) scale(1,1.047)">17</text><rect x="803.40" y="693.40" width="5.8" height="3.6" fill="#fff"/><rect x="811.30" y="693.40" width="4.6" height="3.6" fill="#fff"/>
<text transform="translate(804.00,727.00) scale(1,1.047)">18</text><rect x="803.40" y="724.40" width="5.8" height="3.6" fill="#fff"/><rect x="811.30" y="724.40" width="4.6" height="3.6" fill="#fff"/>
<text transform="translate(804.00,754.00) scale(1,1.047)">27</text>
<text transform="translate(956.00,375.00) scale(1,1.047)">15</text><rect x="955.40" y="372.40" width="5.8" height="3.6" fill="#fff"/><rect x="963.30" y="372.40" width="4.6" height="3.6" fill="#fff"/>
</g>
</svg>
</body></html>
